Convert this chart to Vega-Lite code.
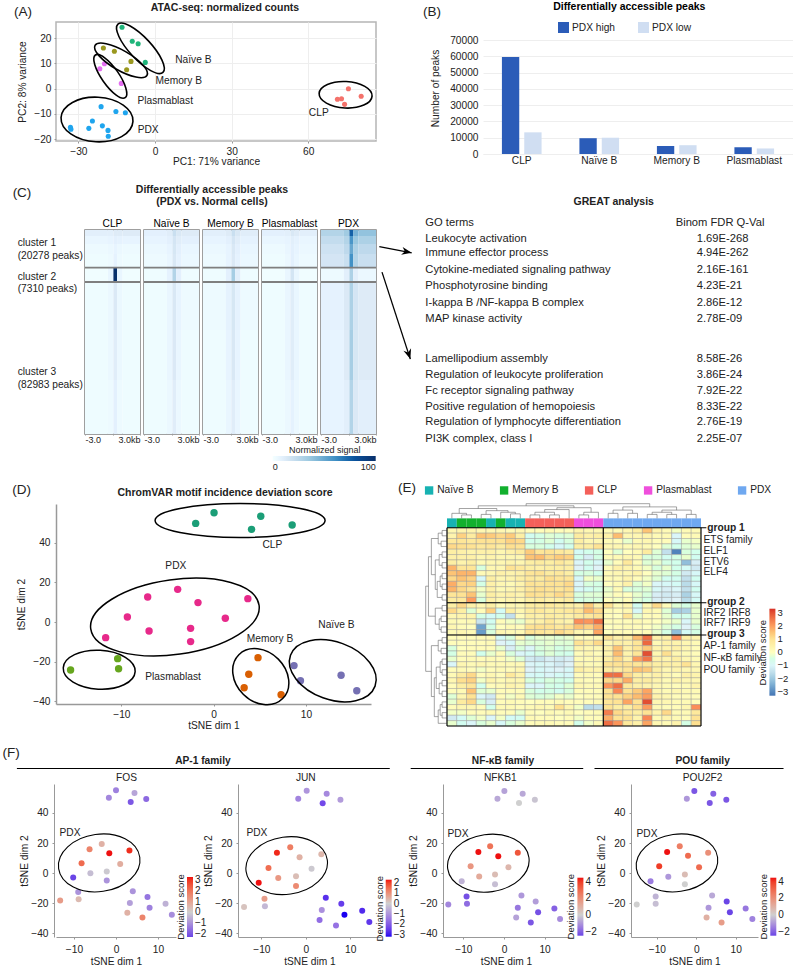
{"$schema":"https://vega.github.io/schema/vega-lite/v6.json","padding":0,"config":{"font":"Liberation Sans","view":{"stroke":null},"axis":{"grid":false,"labelFontSize":10.2,"titleFontSize":10.2,"titleFontWeight":"normal","labelColor":"#222","titleColor":"#222","domainColor":"#999","tickColor":"#999","tickSize":2,"labelPadding":3},"text":{"fontSize":10.2,"color":"#222"}},"resolve":{"scale":{"color":"independent","fill":"independent"},"legend":{"color":"independent","fill":"independent"}},"spacing":0,
"datasets":{"c":[
{"p":"CLP","x":-3,"x2":-0.5,"y":0,"y2":6,"v":10},{"p":"CLP","x":-0.5,"x2":0.1,"y":0,"y2":6,"v":10},{"p":"CLP","x":0.1,"x2":0.5,"y":0,"y2":6,"v":12},{"p":"CLP","x":0.5,"x2":1.1,"y":0,"y2":6,"v":12},{"p":"CLP","x":1.1,"x2":3,"y":0,"y2":6,"v":12},
{"p":"CLP","x":-3,"x2":-0.5,"y":6,"y2":14,"v":6},{"p":"CLP","x":-0.5,"x2":0.1,"y":6,"y2":14,"v":7},{"p":"CLP","x":0.1,"x2":0.5,"y":6,"y2":14,"v":9},{"p":"CLP","x":0.5,"x2":1.1,"y":6,"y2":14,"v":8},{"p":"CLP","x":1.1,"x2":3,"y":6,"y2":14,"v":7},
{"p":"CLP","x":-3,"x2":-0.5,"y":14,"y2":24,"v":4},{"p":"CLP","x":-0.5,"x2":0.1,"y":14,"y2":24,"v":5},{"p":"CLP","x":0.1,"x2":0.5,"y":14,"y2":24,"v":7},{"p":"CLP","x":0.5,"x2":1.1,"y":14,"y2":24,"v":5},{"p":"CLP","x":1.1,"x2":3,"y":14,"y2":24,"v":4},
{"p":"CLP","x":-3,"x2":-0.5,"y":24,"y2":37.7,"v":3},{"p":"CLP","x":-0.5,"x2":0.1,"y":24,"y2":37.7,"v":4},{"p":"CLP","x":0.1,"x2":0.5,"y":24,"y2":37.7,"v":8},{"p":"CLP","x":0.5,"x2":1.1,"y":24,"y2":37.7,"v":4},{"p":"CLP","x":1.1,"x2":3,"y":24,"y2":37.7,"v":3},
{"p":"CLP","x":-3,"x2":-0.5,"y":37.7,"y2":52,"v":2},{"p":"CLP","x":-0.5,"x2":0.1,"y":37.7,"y2":52,"v":6},{"p":"CLP","x":0.1,"x2":0.5,"y":37.7,"y2":52,"v":100},{"p":"CLP","x":0.5,"x2":1.1,"y":37.7,"y2":52,"v":6},{"p":"CLP","x":1.1,"x2":3,"y":37.7,"y2":52,"v":2},
{"p":"CLP","x":-3,"x2":-0.5,"y":52,"y2":100,"v":3},{"p":"CLP","x":-0.5,"x2":0.1,"y":52,"y2":100,"v":5},{"p":"CLP","x":0.1,"x2":0.5,"y":52,"y2":100,"v":13},{"p":"CLP","x":0.5,"x2":1.1,"y":52,"y2":100,"v":5},{"p":"CLP","x":1.1,"x2":3,"y":52,"y2":100,"v":3},
{"p":"CLP","x":-3,"x2":-0.5,"y":100,"y2":150,"v":3},{"p":"CLP","x":-0.5,"x2":0.1,"y":100,"y2":150,"v":5},{"p":"CLP","x":0.1,"x2":0.5,"y":100,"y2":150,"v":11},{"p":"CLP","x":0.5,"x2":1.1,"y":100,"y2":150,"v":5},{"p":"CLP","x":1.1,"x2":3,"y":100,"y2":150,"v":3},
{"p":"CLP","x":-3,"x2":-0.5,"y":150,"y2":204,"v":3},{"p":"CLP","x":-0.5,"x2":0.1,"y":150,"y2":204,"v":4},{"p":"CLP","x":0.1,"x2":0.5,"y":150,"y2":204,"v":9},{"p":"CLP","x":0.5,"x2":1.1,"y":150,"y2":204,"v":4},{"p":"CLP","x":1.1,"x2":3,"y":150,"y2":204,"v":3},
{"p":"NB","x":-3,"x2":-0.5,"y":0,"y2":6,"v":9},{"p":"NB","x":-0.5,"x2":0.1,"y":0,"y2":6,"v":11},{"p":"NB","x":0.1,"x2":0.5,"y":0,"y2":6,"v":20},{"p":"NB","x":0.5,"x2":1.1,"y":0,"y2":6,"v":14},{"p":"NB","x":1.1,"x2":3,"y":0,"y2":6,"v":12},
{"p":"NB","x":-3,"x2":-0.5,"y":6,"y2":14,"v":7},{"p":"NB","x":-0.5,"x2":0.1,"y":6,"y2":14,"v":9},{"p":"NB","x":0.1,"x2":0.5,"y":6,"y2":14,"v":16},{"p":"NB","x":0.5,"x2":1.1,"y":6,"y2":14,"v":11},{"p":"NB","x":1.1,"x2":3,"y":6,"y2":14,"v":9},
{"p":"NB","x":-3,"x2":-0.5,"y":14,"y2":24,"v":5},{"p":"NB","x":-0.5,"x2":0.1,"y":14,"y2":24,"v":7},{"p":"NB","x":0.1,"x2":0.5,"y":14,"y2":24,"v":15},{"p":"NB","x":0.5,"x2":1.1,"y":14,"y2":24,"v":9},{"p":"NB","x":1.1,"x2":3,"y":14,"y2":24,"v":6},
{"p":"NB","x":-3,"x2":-0.5,"y":24,"y2":37.7,"v":4},{"p":"NB","x":-0.5,"x2":0.1,"y":24,"y2":37.7,"v":6},{"p":"NB","x":0.1,"x2":0.5,"y":24,"y2":37.7,"v":14},{"p":"NB","x":0.5,"x2":1.1,"y":24,"y2":37.7,"v":8},{"p":"NB","x":1.1,"x2":3,"y":24,"y2":37.7,"v":5},
{"p":"NB","x":-3,"x2":-0.5,"y":37.7,"y2":52,"v":3},{"p":"NB","x":-0.5,"x2":0.1,"y":37.7,"y2":52,"v":8},{"p":"NB","x":0.1,"x2":0.5,"y":37.7,"y2":52,"v":28},{"p":"NB","x":0.5,"x2":1.1,"y":37.7,"y2":52,"v":9},{"p":"NB","x":1.1,"x2":3,"y":37.7,"y2":52,"v":3},
{"p":"NB","x":-3,"x2":-0.5,"y":52,"y2":100,"v":3},{"p":"NB","x":-0.5,"x2":0.1,"y":52,"y2":100,"v":6},{"p":"NB","x":0.1,"x2":0.5,"y":52,"y2":100,"v":14},{"p":"NB","x":0.5,"x2":1.1,"y":52,"y2":100,"v":7},{"p":"NB","x":1.1,"x2":3,"y":52,"y2":100,"v":4},
{"p":"NB","x":-3,"x2":-0.5,"y":100,"y2":150,"v":3},{"p":"NB","x":-0.5,"x2":0.1,"y":100,"y2":150,"v":6},{"p":"NB","x":0.1,"x2":0.5,"y":100,"y2":150,"v":13},{"p":"NB","x":0.5,"x2":1.1,"y":100,"y2":150,"v":6},{"p":"NB","x":1.1,"x2":3,"y":100,"y2":150,"v":3},
{"p":"NB","x":-3,"x2":-0.5,"y":150,"y2":204,"v":3},{"p":"NB","x":-0.5,"x2":0.1,"y":150,"y2":204,"v":5},{"p":"NB","x":0.1,"x2":0.5,"y":150,"y2":204,"v":11},{"p":"NB","x":0.5,"x2":1.1,"y":150,"y2":204,"v":5},{"p":"NB","x":1.1,"x2":3,"y":150,"y2":204,"v":3},
{"p":"MB","x":-3,"x2":-0.5,"y":0,"y2":6,"v":10},{"p":"MB","x":-0.5,"x2":0.1,"y":0,"y2":6,"v":12},{"p":"MB","x":0.1,"x2":0.5,"y":0,"y2":6,"v":20},{"p":"MB","x":0.5,"x2":1.1,"y":0,"y2":6,"v":14},{"p":"MB","x":1.1,"x2":3,"y":0,"y2":6,"v":11},
{"p":"MB","x":-3,"x2":-0.5,"y":6,"y2":14,"v":7},{"p":"MB","x":-0.5,"x2":0.1,"y":6,"y2":14,"v":9},{"p":"MB","x":0.1,"x2":0.5,"y":6,"y2":14,"v":16},{"p":"MB","x":0.5,"x2":1.1,"y":6,"y2":14,"v":11},{"p":"MB","x":1.1,"x2":3,"y":6,"y2":14,"v":8},
{"p":"MB","x":-3,"x2":-0.5,"y":14,"y2":24,"v":5},{"p":"MB","x":-0.5,"x2":0.1,"y":14,"y2":24,"v":7},{"p":"MB","x":0.1,"x2":0.5,"y":14,"y2":24,"v":14},{"p":"MB","x":0.5,"x2":1.1,"y":14,"y2":24,"v":9},{"p":"MB","x":1.1,"x2":3,"y":14,"y2":24,"v":6},
{"p":"MB","x":-3,"x2":-0.5,"y":24,"y2":37.7,"v":4},{"p":"MB","x":-0.5,"x2":0.1,"y":24,"y2":37.7,"v":7},{"p":"MB","x":0.1,"x2":0.5,"y":24,"y2":37.7,"v":13},{"p":"MB","x":0.5,"x2":1.1,"y":24,"y2":37.7,"v":8},{"p":"MB","x":1.1,"x2":3,"y":24,"y2":37.7,"v":5},
{"p":"MB","x":-3,"x2":-0.5,"y":37.7,"y2":52,"v":3},{"p":"MB","x":-0.5,"x2":0.1,"y":37.7,"y2":52,"v":9},{"p":"MB","x":0.1,"x2":0.5,"y":37.7,"y2":52,"v":32},{"p":"MB","x":0.5,"x2":1.1,"y":37.7,"y2":52,"v":10},{"p":"MB","x":1.1,"x2":3,"y":37.7,"y2":52,"v":3},
{"p":"MB","x":-3,"x2":-0.5,"y":52,"y2":100,"v":4},{"p":"MB","x":-0.5,"x2":0.1,"y":52,"y2":100,"v":8},{"p":"MB","x":0.1,"x2":0.5,"y":52,"y2":100,"v":15},{"p":"MB","x":0.5,"x2":1.1,"y":52,"y2":100,"v":8},{"p":"MB","x":1.1,"x2":3,"y":52,"y2":100,"v":4},
{"p":"MB","x":-3,"x2":-0.5,"y":100,"y2":150,"v":3},{"p":"MB","x":-0.5,"x2":0.1,"y":100,"y2":150,"v":7},{"p":"MB","x":0.1,"x2":0.5,"y":100,"y2":150,"v":14},{"p":"MB","x":0.5,"x2":1.1,"y":100,"y2":150,"v":7},{"p":"MB","x":1.1,"x2":3,"y":100,"y2":150,"v":3},
{"p":"MB","x":-3,"x2":-0.5,"y":150,"y2":204,"v":3},{"p":"MB","x":-0.5,"x2":0.1,"y":150,"y2":204,"v":6},{"p":"MB","x":0.1,"x2":0.5,"y":150,"y2":204,"v":11},{"p":"MB","x":0.5,"x2":1.1,"y":150,"y2":204,"v":6},{"p":"MB","x":1.1,"x2":3,"y":150,"y2":204,"v":3},
{"p":"PB","x":-3,"x2":-0.5,"y":0,"y2":6,"v":9},{"p":"PB","x":-0.5,"x2":0.1,"y":0,"y2":6,"v":10},{"p":"PB","x":0.1,"x2":0.5,"y":0,"y2":6,"v":14},{"p":"PB","x":0.5,"x2":1.1,"y":0,"y2":6,"v":12},{"p":"PB","x":1.1,"x2":3,"y":0,"y2":6,"v":10},
{"p":"PB","x":-3,"x2":-0.5,"y":6,"y2":14,"v":6},{"p":"PB","x":-0.5,"x2":0.1,"y":6,"y2":14,"v":7},{"p":"PB","x":0.1,"x2":0.5,"y":6,"y2":14,"v":10},{"p":"PB","x":0.5,"x2":1.1,"y":6,"y2":14,"v":8},{"p":"PB","x":1.1,"x2":3,"y":6,"y2":14,"v":6},
{"p":"PB","x":-3,"x2":-0.5,"y":14,"y2":24,"v":4},{"p":"PB","x":-0.5,"x2":0.1,"y":14,"y2":24,"v":6},{"p":"PB","x":0.1,"x2":0.5,"y":14,"y2":24,"v":9},{"p":"PB","x":0.5,"x2":1.1,"y":14,"y2":24,"v":7},{"p":"PB","x":1.1,"x2":3,"y":14,"y2":24,"v":5},
{"p":"PB","x":-3,"x2":-0.5,"y":24,"y2":37.7,"v":3},{"p":"PB","x":-0.5,"x2":0.1,"y":24,"y2":37.7,"v":5},{"p":"PB","x":0.1,"x2":0.5,"y":24,"y2":37.7,"v":9},{"p":"PB","x":0.5,"x2":1.1,"y":24,"y2":37.7,"v":6},{"p":"PB","x":1.1,"x2":3,"y":24,"y2":37.7,"v":4},
{"p":"PB","x":-3,"x2":-0.5,"y":37.7,"y2":52,"v":2},{"p":"PB","x":-0.5,"x2":0.1,"y":37.7,"y2":52,"v":6},{"p":"PB","x":0.1,"x2":0.5,"y":37.7,"y2":52,"v":16},{"p":"PB","x":0.5,"x2":1.1,"y":37.7,"y2":52,"v":6},{"p":"PB","x":1.1,"x2":3,"y":37.7,"y2":52,"v":2},
{"p":"PB","x":-3,"x2":-0.5,"y":52,"y2":100,"v":3},{"p":"PB","x":-0.5,"x2":0.1,"y":52,"y2":100,"v":6},{"p":"PB","x":0.1,"x2":0.5,"y":52,"y2":100,"v":11},{"p":"PB","x":0.5,"x2":1.1,"y":52,"y2":100,"v":6},{"p":"PB","x":1.1,"x2":3,"y":52,"y2":100,"v":3},
{"p":"PB","x":-3,"x2":-0.5,"y":100,"y2":150,"v":3},{"p":"PB","x":-0.5,"x2":0.1,"y":100,"y2":150,"v":6},{"p":"PB","x":0.1,"x2":0.5,"y":100,"y2":150,"v":11},{"p":"PB","x":0.5,"x2":1.1,"y":100,"y2":150,"v":6},{"p":"PB","x":1.1,"x2":3,"y":100,"y2":150,"v":3},
{"p":"PB","x":-3,"x2":-0.5,"y":150,"y2":204,"v":3},{"p":"PB","x":-0.5,"x2":0.1,"y":150,"y2":204,"v":5},{"p":"PB","x":0.1,"x2":0.5,"y":150,"y2":204,"v":8},{"p":"PB","x":0.5,"x2":1.1,"y":150,"y2":204,"v":5},{"p":"PB","x":1.1,"x2":3,"y":150,"y2":204,"v":3},
{"p":"PDX","x":-3,"x2":-0.5,"y":0,"y2":6,"v":28},{"p":"PDX","x":-0.5,"x2":0.1,"y":0,"y2":6,"v":34},{"p":"PDX","x":0.1,"x2":0.5,"y":0,"y2":6,"v":75},{"p":"PDX","x":0.5,"x2":1.1,"y":0,"y2":6,"v":45},{"p":"PDX","x":1.1,"x2":3,"y":0,"y2":6,"v":38},
{"p":"PDX","x":-3,"x2":-0.5,"y":6,"y2":14,"v":22},{"p":"PDX","x":-0.5,"x2":0.1,"y":6,"y2":14,"v":28},{"p":"PDX","x":0.1,"x2":0.5,"y":6,"y2":14,"v":58},{"p":"PDX","x":0.5,"x2":1.1,"y":6,"y2":14,"v":36},{"p":"PDX","x":1.1,"x2":3,"y":6,"y2":14,"v":30},
{"p":"PDX","x":-3,"x2":-0.5,"y":14,"y2":24,"v":18},{"p":"PDX","x":-0.5,"x2":0.1,"y":14,"y2":24,"v":24},{"p":"PDX","x":0.1,"x2":0.5,"y":14,"y2":24,"v":50},{"p":"PDX","x":0.5,"x2":1.1,"y":14,"y2":24,"v":30},{"p":"PDX","x":1.1,"x2":3,"y":14,"y2":24,"v":24},
{"p":"PDX","x":-3,"x2":-0.5,"y":24,"y2":37.7,"v":16},{"p":"PDX","x":-0.5,"x2":0.1,"y":24,"y2":37.7,"v":20},{"p":"PDX","x":0.1,"x2":0.5,"y":24,"y2":37.7,"v":60},{"p":"PDX","x":0.5,"x2":1.1,"y":24,"y2":37.7,"v":28},{"p":"PDX","x":1.1,"x2":3,"y":24,"y2":37.7,"v":20},
{"p":"PDX","x":-3,"x2":-0.5,"y":37.7,"y2":52,"v":4},{"p":"PDX","x":-0.5,"x2":0.1,"y":37.7,"y2":52,"v":10},{"p":"PDX","x":0.1,"x2":0.5,"y":37.7,"y2":52,"v":30},{"p":"PDX","x":0.5,"x2":1.1,"y":37.7,"y2":52,"v":10},{"p":"PDX","x":1.1,"x2":3,"y":37.7,"y2":52,"v":5},
{"p":"PDX","x":-3,"x2":-0.5,"y":52,"y2":100,"v":8},{"p":"PDX","x":-0.5,"x2":0.1,"y":52,"y2":100,"v":13},{"p":"PDX","x":0.1,"x2":0.5,"y":52,"y2":100,"v":30},{"p":"PDX","x":0.5,"x2":1.1,"y":52,"y2":100,"v":16},{"p":"PDX","x":1.1,"x2":3,"y":52,"y2":100,"v":12},
{"p":"PDX","x":-3,"x2":-0.5,"y":100,"y2":150,"v":7},{"p":"PDX","x":-0.5,"x2":0.1,"y":100,"y2":150,"v":12},{"p":"PDX","x":0.1,"x2":0.5,"y":100,"y2":150,"v":32},{"p":"PDX","x":0.5,"x2":1.1,"y":100,"y2":150,"v":15},{"p":"PDX","x":1.1,"x2":3,"y":100,"y2":150,"v":12},
{"p":"PDX","x":-3,"x2":-0.5,"y":150,"y2":204,"v":7},{"p":"PDX","x":-0.5,"x2":0.1,"y":150,"y2":204,"v":10},{"p":"PDX","x":0.1,"x2":0.5,"y":150,"y2":204,"v":28},{"p":"PDX","x":0.5,"x2":1.1,"y":150,"y2":204,"v":13},{"p":"PDX","x":1.1,"x2":3,"y":150,"y2":204,"v":10}
],"e":[
{"r":1,"c":1,"v":0.3},{"r":1,"c":2,"v":0.4},{"r":1,"c":3,"v":0.4},{"r":1,"c":4,"v":0.3},{"r":1,"c":5,"v":0.3},{"r":1,"c":6,"v":0.3},{"r":1,"c":7,"v":0.2},{"r":1,"c":8,"v":0.3},{"r":1,"c":9,"v":0.1},{"r":1,"c":10,"v":0.1},{"r":1,"c":11,"v":0.2},{"r":1,"c":12,"v":0.1},{"r":1,"c":13,"v":0.1},{"r":1,"c":14,"v":0.4},{"r":1,"c":15,"v":0.3},{"r":1,"c":16,"v":0.3},{"r":1,"c":17,"v":0.2},{"r":1,"c":18,"v":0.2},{"r":1,"c":19,"v":0.3},{"r":1,"c":20,"v":0.6},{"r":1,"c":21,"v":1.5},{"r":1,"c":22,"v":0.4},{"r":1,"c":23,"v":0.2},{"r":1,"c":24,"v":-0.1},{"r":1,"c":25,"v":0.2},{"r":1,"c":26,"v":0.2},
{"r":2,"c":1,"v":0.4},{"r":2,"c":2,"v":1.3},{"r":2,"c":3,"v":0.7},{"r":2,"c":4,"v":1.5},{"r":2,"c":5,"v":1.4},{"r":2,"c":6,"v":1.2},{"r":2,"c":7,"v":1.4},{"r":2,"c":8,"v":0.6},{"r":2,"c":9,"v":-0.7},{"r":2,"c":10,"v":-0.5},{"r":2,"c":11,"v":-0.3},{"r":2,"c":12,"v":-0.4},{"r":2,"c":13,"v":-0.3},{"r":2,"c":14,"v":0.7},{"r":2,"c":15,"v":0.5},{"r":2,"c":16,"v":0.6},{"r":2,"c":17,"v":0.5},{"r":2,"c":18,"v":1.6},{"r":2,"c":19,"v":0.3},{"r":2,"c":20,"v":0.3},{"r":2,"c":21,"v":0.4},{"r":2,"c":22,"v":0.2},{"r":2,"c":23,"v":0.2},{"r":2,"c":24,"v":-1},{"r":2,"c":25,"v":0.1},{"r":2,"c":26,"v":0.2},
{"r":3,"c":1,"v":0.8},{"r":3,"c":2,"v":0.9},{"r":3,"c":3,"v":0.8},{"r":3,"c":4,"v":1},{"r":3,"c":5,"v":1},{"r":3,"c":6,"v":1},{"r":3,"c":7,"v":1.3},{"r":3,"c":8,"v":1.2},{"r":3,"c":9,"v":-0.6},{"r":3,"c":10,"v":-0.5},{"r":3,"c":11,"v":-0.3},{"r":3,"c":12,"v":-0.7},{"r":3,"c":13,"v":-0.4},{"r":3,"c":14,"v":0.6},{"r":3,"c":15,"v":0.3},{"r":3,"c":16,"v":0.3},{"r":3,"c":17,"v":0.2},{"r":3,"c":18,"v":0.1},{"r":3,"c":19,"v":-0.2},{"r":3,"c":20,"v":0.2},{"r":3,"c":21,"v":0.3},{"r":3,"c":22,"v":0.1},{"r":3,"c":23,"v":0.1},{"r":3,"c":24,"v":-0.9},{"r":3,"c":25,"v":-0.2},{"r":3,"c":26,"v":-0.1},
{"r":4,"c":1,"v":1.2},{"r":4,"c":2,"v":1.1},{"r":4,"c":3,"v":1},{"r":4,"c":4,"v":0.8},{"r":4,"c":5,"v":0.9},{"r":4,"c":6,"v":0.7},{"r":4,"c":7,"v":1.1},{"r":4,"c":8,"v":1},{"r":4,"c":9,"v":-0.4},{"r":4,"c":10,"v":-0.4},{"r":4,"c":11,"v":-0.6},{"r":4,"c":12,"v":-0.9},{"r":4,"c":13,"v":-0.6},{"r":4,"c":14,"v":0.6},{"r":4,"c":15,"v":0.6},{"r":4,"c":16,"v":1},{"r":4,"c":17,"v":0.3},{"r":4,"c":18,"v":0.3},{"r":4,"c":19,"v":0.2},{"r":4,"c":20,"v":0.3},{"r":4,"c":21,"v":0.2},{"r":4,"c":22,"v":0},{"r":4,"c":23,"v":-0.3},{"r":4,"c":24,"v":-0.6},{"r":4,"c":25,"v":-0.3},{"r":4,"c":26,"v":-0.2},
{"r":5,"c":1,"v":0.6},{"r":5,"c":2,"v":0.5},{"r":5,"c":3,"v":0.4},{"r":5,"c":4,"v":0.5},{"r":5,"c":5,"v":0.5},{"r":5,"c":6,"v":0.3},{"r":5,"c":7,"v":0.5},{"r":5,"c":8,"v":0.7},{"r":5,"c":9,"v":1.4},{"r":5,"c":10,"v":0.9},{"r":5,"c":11,"v":1},{"r":5,"c":12,"v":0.8},{"r":5,"c":13,"v":0.7},{"r":5,"c":14,"v":-0.8},{"r":5,"c":15,"v":-0.6},{"r":5,"c":16,"v":-0.5},{"r":5,"c":17,"v":0},{"r":5,"c":18,"v":-0.3},{"r":5,"c":19,"v":0},{"r":5,"c":20,"v":0.2},{"r":5,"c":21,"v":0.7},{"r":5,"c":22,"v":-0.3},{"r":5,"c":23,"v":-1.5},{"r":5,"c":24,"v":-3.1},{"r":5,"c":25,"v":-0.4},{"r":5,"c":26,"v":-0.6},
{"r":6,"c":1,"v":0.5},{"r":6,"c":2,"v":0.5},{"r":6,"c":3,"v":0.5},{"r":6,"c":4,"v":0.3},{"r":6,"c":5,"v":0.4},{"r":6,"c":6,"v":0.3},{"r":6,"c":7,"v":0.3},{"r":6,"c":8,"v":0.3},{"r":6,"c":9,"v":1.5},{"r":6,"c":10,"v":1.6},{"r":6,"c":11,"v":1.2},{"r":6,"c":12,"v":1.4},{"r":6,"c":13,"v":1.3},{"r":6,"c":14,"v":-0.6},{"r":6,"c":15,"v":-1.2},{"r":6,"c":16,"v":-0.5},{"r":6,"c":17,"v":0.1},{"r":6,"c":18,"v":0.2},{"r":6,"c":19,"v":0.3},{"r":6,"c":20,"v":0.2},{"r":6,"c":21,"v":-0.4},{"r":6,"c":22,"v":-0.4},{"r":6,"c":23,"v":-0.7},{"r":6,"c":24,"v":-0.5},{"r":6,"c":25,"v":-0.2},{"r":6,"c":26,"v":-0.7},
{"r":7,"c":1,"v":0.6},{"r":7,"c":2,"v":0.4},{"r":7,"c":3,"v":0.6},{"r":7,"c":4,"v":0.2},{"r":7,"c":5,"v":0.3},{"r":7,"c":6,"v":0.3},{"r":7,"c":7,"v":0.4},{"r":7,"c":8,"v":0.3},{"r":7,"c":9,"v":0.6},{"r":7,"c":10,"v":0.7},{"r":7,"c":11,"v":0.6},{"r":7,"c":12,"v":0.8},{"r":7,"c":13,"v":0.6},{"r":7,"c":14,"v":-1},{"r":7,"c":15,"v":-0.6},{"r":7,"c":16,"v":-0.9},{"r":7,"c":17,"v":-0.2},{"r":7,"c":18,"v":0.1},{"r":7,"c":19,"v":0.8},{"r":7,"c":20,"v":0.1},{"r":7,"c":21,"v":-0.3},{"r":7,"c":22,"v":-0.2},{"r":7,"c":23,"v":-0.5},{"r":7,"c":24,"v":-0.6},{"r":7,"c":25,"v":-2.2},{"r":7,"c":26,"v":-1.2},
{"r":8,"c":1,"v":1.7},{"r":8,"c":2,"v":0.9},{"r":8,"c":3,"v":0.9},{"r":8,"c":4,"v":-0.4},{"r":8,"c":5,"v":0.3},{"r":8,"c":6,"v":0.3},{"r":8,"c":7,"v":1},{"r":8,"c":8,"v":0.8},{"r":8,"c":9,"v":0.6},{"r":8,"c":10,"v":0.5},{"r":8,"c":11,"v":0.6},{"r":8,"c":12,"v":0.6},{"r":8,"c":13,"v":0.6},{"r":8,"c":14,"v":-1.1},{"r":8,"c":15,"v":-0.7},{"r":8,"c":16,"v":-1.1},{"r":8,"c":17,"v":0.1},{"r":8,"c":18,"v":0.5},{"r":8,"c":19,"v":0.4},{"r":8,"c":20,"v":0.2},{"r":8,"c":21,"v":-0.1},{"r":8,"c":22,"v":-0.4},{"r":8,"c":23,"v":-0.2},{"r":8,"c":24,"v":-0.6},{"r":8,"c":25,"v":-0.8},{"r":8,"c":26,"v":-1.3},
{"r":9,"c":1,"v":1.5},{"r":9,"c":2,"v":1.7},{"r":9,"c":3,"v":1.7},{"r":9,"c":4,"v":0.2},{"r":9,"c":5,"v":0.3},{"r":9,"c":6,"v":0.5},{"r":9,"c":7,"v":0.4},{"r":9,"c":8,"v":0.5},{"r":9,"c":9,"v":0.9},{"r":9,"c":10,"v":1},{"r":9,"c":11,"v":0.7},{"r":9,"c":12,"v":0.8},{"r":9,"c":13,"v":0.6},{"r":9,"c":14,"v":-0.5},{"r":9,"c":15,"v":-0.4},{"r":9,"c":16,"v":-0.6},{"r":9,"c":17,"v":0.2},{"r":9,"c":18,"v":0.3},{"r":9,"c":19,"v":0.3},{"r":9,"c":20,"v":0.4},{"r":9,"c":21,"v":0},{"r":9,"c":22,"v":-0.2},{"r":9,"c":23,"v":-0.3},{"r":9,"c":24,"v":-0.5},{"r":9,"c":25,"v":-1.3},{"r":9,"c":26,"v":-0.9},
{"r":10,"c":1,"v":1.2},{"r":10,"c":2,"v":1.5},{"r":10,"c":3,"v":1.3},{"r":10,"c":4,"v":-0.9},{"r":10,"c":5,"v":0.6},{"r":10,"c":6,"v":0.3},{"r":10,"c":7,"v":0.4},{"r":10,"c":8,"v":0.6},{"r":10,"c":9,"v":0.8},{"r":10,"c":10,"v":0.7},{"r":10,"c":11,"v":1.1},{"r":10,"c":12,"v":0.9},{"r":10,"c":13,"v":0.9},{"r":10,"c":14,"v":-0.9},{"r":10,"c":15,"v":-0.1},{"r":10,"c":16,"v":-0.2},{"r":10,"c":17,"v":0.2},{"r":10,"c":18,"v":0.2},{"r":10,"c":19,"v":0.4},{"r":10,"c":20,"v":0.1},{"r":10,"c":21,"v":-0.1},{"r":10,"c":22,"v":-0.3},{"r":10,"c":23,"v":-0.7},{"r":10,"c":24,"v":-0.7},{"r":10,"c":25,"v":-1.5},{"r":10,"c":26,"v":-0.7},
{"r":11,"c":1,"v":1.8},{"r":11,"c":2,"v":1.2},{"r":11,"c":3,"v":1.3},{"r":11,"c":4,"v":-0.5},{"r":11,"c":5,"v":0.5},{"r":11,"c":6,"v":0.3},{"r":11,"c":7,"v":0.2},{"r":11,"c":8,"v":0.4},{"r":11,"c":9,"v":1},{"r":11,"c":10,"v":0.9},{"r":11,"c":11,"v":1},{"r":11,"c":12,"v":1},{"r":11,"c":13,"v":1.2},{"r":11,"c":14,"v":-1},{"r":11,"c":15,"v":-0.4},{"r":11,"c":16,"v":-0.5},{"r":11,"c":17,"v":0},{"r":11,"c":18,"v":0.2},{"r":11,"c":19,"v":0.5},{"r":11,"c":20,"v":-0.3},{"r":11,"c":21,"v":-0.1},{"r":11,"c":22,"v":-1},{"r":11,"c":23,"v":-0.9},{"r":11,"c":24,"v":-0.8},{"r":11,"c":25,"v":-1.6},{"r":11,"c":26,"v":-0.9},
{"r":12,"c":1,"v":1.7},{"r":12,"c":2,"v":1.2},{"r":12,"c":3,"v":0.9},{"r":12,"c":4,"v":-0.1},{"r":12,"c":5,"v":0.5},{"r":12,"c":6,"v":0.2},{"r":12,"c":7,"v":0.3},{"r":12,"c":8,"v":0.5},{"r":12,"c":9,"v":0.9},{"r":12,"c":10,"v":1.1},{"r":12,"c":11,"v":1},{"r":12,"c":12,"v":0.9},{"r":12,"c":13,"v":1.1},{"r":12,"c":14,"v":-0.9},{"r":12,"c":15,"v":-0.7},{"r":12,"c":16,"v":-0.5},{"r":12,"c":17,"v":-0.2},{"r":12,"c":18,"v":0.2},{"r":12,"c":19,"v":-0.4},{"r":12,"c":20,"v":-0.4},{"r":12,"c":21,"v":-0.3},{"r":12,"c":22,"v":-0.9},{"r":12,"c":23,"v":-1.2},{"r":12,"c":24,"v":-1},{"r":12,"c":25,"v":-1.5},{"r":12,"c":26,"v":-0.7},
{"r":13,"c":1,"v":0.9},{"r":13,"c":2,"v":1},{"r":13,"c":3,"v":1.5},{"r":13,"c":4,"v":-0.2},{"r":13,"c":5,"v":0.6},{"r":13,"c":6,"v":0.4},{"r":13,"c":7,"v":0.5},{"r":13,"c":8,"v":0.4},{"r":13,"c":9,"v":1.1},{"r":13,"c":10,"v":1},{"r":13,"c":11,"v":0.9},{"r":13,"c":12,"v":1.2},{"r":13,"c":13,"v":0.9},{"r":13,"c":14,"v":-0.4},{"r":13,"c":15,"v":-0.3},{"r":13,"c":16,"v":-0.3},{"r":13,"c":17,"v":-0.1},{"r":13,"c":18,"v":0.1},{"r":13,"c":19,"v":0},{"r":13,"c":20,"v":-0.2},{"r":13,"c":21,"v":-0.4},{"r":13,"c":22,"v":-1.2},{"r":13,"c":23,"v":-1.3},{"r":13,"c":24,"v":-1.2},{"r":13,"c":25,"v":-1.8},{"r":13,"c":26,"v":-0.9},
{"r":14,"c":1,"v":0.7},{"r":14,"c":2,"v":0.8},{"r":14,"c":3,"v":2},{"r":14,"c":4,"v":-0.4},{"r":14,"c":5,"v":0.5},{"r":14,"c":6,"v":0.3},{"r":14,"c":7,"v":0.4},{"r":14,"c":8,"v":0.3},{"r":14,"c":9,"v":0.6},{"r":14,"c":10,"v":0.7},{"r":14,"c":11,"v":0.5},{"r":14,"c":12,"v":0.6},{"r":14,"c":13,"v":0.7},{"r":14,"c":14,"v":-0.5},{"r":14,"c":15,"v":-0.4},{"r":14,"c":16,"v":-0.4},{"r":14,"c":17,"v":0},{"r":14,"c":18,"v":-0.1},{"r":14,"c":19,"v":0.1},{"r":14,"c":20,"v":-0.3},{"r":14,"c":21,"v":-0.5},{"r":14,"c":22,"v":-1.2},{"r":14,"c":23,"v":-1.2},{"r":14,"c":24,"v":-1.1},{"r":14,"c":25,"v":-1.6},{"r":14,"c":26,"v":-0.8},
{"r":15,"c":1,"v":0.6},{"r":15,"c":2,"v":1.2},{"r":15,"c":3,"v":0.5},{"r":15,"c":4,"v":0.3},{"r":15,"c":5,"v":0.6},{"r":15,"c":6,"v":0.1},{"r":15,"c":7,"v":0.3},{"r":15,"c":8,"v":0.3},{"r":15,"c":9,"v":0.7},{"r":15,"c":10,"v":0.7},{"r":15,"c":11,"v":0.8},{"r":15,"c":12,"v":0.7},{"r":15,"c":13,"v":0.6},{"r":15,"c":14,"v":0.5},{"r":15,"c":15,"v":1.4},{"r":15,"c":16,"v":0.5},{"r":15,"c":17,"v":1},{"r":15,"c":18,"v":0.2},{"r":15,"c":19,"v":0.4},{"r":15,"c":20,"v":-0.7},{"r":15,"c":21,"v":0.3},{"r":15,"c":22,"v":1.2},{"r":15,"c":23,"v":0.1},{"r":15,"c":24,"v":-0.3},{"r":15,"c":25,"v":-0.5},{"r":15,"c":26,"v":-0.2},
{"r":16,"c":1,"v":1.2},{"r":16,"c":2,"v":0.6},{"r":16,"c":3,"v":-0.3},{"r":16,"c":4,"v":0.1},{"r":16,"c":5,"v":1.3},{"r":16,"c":6,"v":-0.8},{"r":16,"c":7,"v":0.6},{"r":16,"c":8,"v":0.3},{"r":16,"c":9,"v":0.7},{"r":16,"c":10,"v":0.8},{"r":16,"c":11,"v":0.6},{"r":16,"c":12,"v":0.7},{"r":16,"c":13,"v":0.8},{"r":16,"c":14,"v":0.9},{"r":16,"c":15,"v":1.6},{"r":16,"c":16,"v":1.2},{"r":16,"c":17,"v":0.2},{"r":16,"c":18,"v":0.1},{"r":16,"c":19,"v":0.3},{"r":16,"c":20,"v":-0.9},{"r":16,"c":21,"v":0.3},{"r":16,"c":22,"v":0.2},{"r":16,"c":23,"v":-0.3},{"r":16,"c":24,"v":-1.9},{"r":16,"c":25,"v":-1.8},{"r":16,"c":26,"v":-0.2},
{"r":17,"c":1,"v":0.3},{"r":17,"c":2,"v":0.4},{"r":17,"c":3,"v":0.4},{"r":17,"c":4,"v":-0.5},{"r":17,"c":5,"v":-0.8},{"r":17,"c":6,"v":-0.6},{"r":17,"c":7,"v":-1.5},{"r":17,"c":8,"v":0.1},{"r":17,"c":9,"v":0.6},{"r":17,"c":10,"v":0.5},{"r":17,"c":11,"v":0.7},{"r":17,"c":12,"v":0.6},{"r":17,"c":13,"v":0.5},{"r":17,"c":14,"v":0.7},{"r":17,"c":15,"v":0.8},{"r":17,"c":16,"v":1},{"r":17,"c":17,"v":0.1},{"r":17,"c":18,"v":0},{"r":17,"c":19,"v":1},{"r":17,"c":20,"v":-0.2},{"r":17,"c":21,"v":0.1},{"r":17,"c":22,"v":0.1},{"r":17,"c":23,"v":-0.2},{"r":17,"c":24,"v":-0.6},{"r":17,"c":25,"v":-0.6},{"r":17,"c":26,"v":-0.2},
{"r":18,"c":1,"v":0.2},{"r":18,"c":2,"v":0.1},{"r":18,"c":3,"v":0.2},{"r":18,"c":4,"v":-1.4},{"r":18,"c":5,"v":-0.7},{"r":18,"c":6,"v":0.1},{"r":18,"c":7,"v":-0.1},{"r":18,"c":8,"v":-0.2},{"r":18,"c":9,"v":0.4},{"r":18,"c":10,"v":0.5},{"r":18,"c":11,"v":0.8},{"r":18,"c":12,"v":0.5},{"r":18,"c":13,"v":0.4},{"r":18,"c":14,"v":2.2},{"r":18,"c":15,"v":2.1},{"r":18,"c":16,"v":2.6},{"r":18,"c":17,"v":0.1},{"r":18,"c":18,"v":0.1},{"r":18,"c":19,"v":0.1},{"r":18,"c":20,"v":0.2},{"r":18,"c":21,"v":0.1},{"r":18,"c":22,"v":0},{"r":18,"c":23,"v":-0.1},{"r":18,"c":24,"v":-0.2},{"r":18,"c":25,"v":-1},{"r":18,"c":26,"v":-0.2},
{"r":19,"c":1,"v":0.3},{"r":19,"c":2,"v":0.1},{"r":19,"c":3,"v":0},{"r":19,"c":4,"v":-2.6},{"r":19,"c":5,"v":-0.5},{"r":19,"c":6,"v":0},{"r":19,"c":7,"v":0.2},{"r":19,"c":8,"v":0.1},{"r":19,"c":9,"v":1},{"r":19,"c":10,"v":1.1},{"r":19,"c":11,"v":1},{"r":19,"c":12,"v":0.8},{"r":19,"c":13,"v":1},{"r":19,"c":14,"v":1.5},{"r":19,"c":15,"v":1.3},{"r":19,"c":16,"v":1.8},{"r":19,"c":17,"v":0},{"r":19,"c":18,"v":0.1},{"r":19,"c":19,"v":0.2},{"r":19,"c":20,"v":0.1},{"r":19,"c":21,"v":0},{"r":19,"c":22,"v":-0.1},{"r":19,"c":23,"v":-0.3},{"r":19,"c":24,"v":-0.5},{"r":19,"c":25,"v":-1.1},{"r":19,"c":26,"v":-0.4},
{"r":20,"c":1,"v":0.2},{"r":20,"c":2,"v":0.3},{"r":20,"c":3,"v":0.2},{"r":20,"c":4,"v":-2.7},{"r":20,"c":5,"v":-0.4},{"r":20,"c":6,"v":0.3},{"r":20,"c":7,"v":0.2},{"r":20,"c":8,"v":0.2},{"r":20,"c":9,"v":1},{"r":20,"c":10,"v":0.9},{"r":20,"c":11,"v":0.8},{"r":20,"c":12,"v":1.2},{"r":20,"c":13,"v":0.9},{"r":20,"c":14,"v":0.3},{"r":20,"c":15,"v":0.3},{"r":20,"c":16,"v":1.9},{"r":20,"c":17,"v":0},{"r":20,"c":18,"v":0.2},{"r":20,"c":19,"v":0.1},{"r":20,"c":20,"v":0.1},{"r":20,"c":21,"v":0.1},{"r":20,"c":22,"v":-0.2},{"r":20,"c":23,"v":-0.5},{"r":20,"c":24,"v":-2.2},{"r":20,"c":25,"v":-0.8},{"r":20,"c":26,"v":-0.5},
{"r":21,"c":1,"v":0.1},{"r":21,"c":2,"v":0.1},{"r":21,"c":3,"v":0.1},{"r":21,"c":4,"v":0.2},{"r":21,"c":5,"v":0.2},{"r":21,"c":6,"v":-0.8},{"r":21,"c":7,"v":-0.4},{"r":21,"c":8,"v":0.1},{"r":21,"c":9,"v":-0.4},{"r":21,"c":10,"v":-0.2},{"r":21,"c":11,"v":-0.2},{"r":21,"c":12,"v":-0.3},{"r":21,"c":13,"v":-0.2},{"r":21,"c":14,"v":0.1},{"r":21,"c":15,"v":0.1},{"r":21,"c":16,"v":0.2},{"r":21,"c":17,"v":1},{"r":21,"c":18,"v":0.5},{"r":21,"c":19,"v":0.6},{"r":21,"c":20,"v":1.6},{"r":21,"c":21,"v":2.6},{"r":21,"c":22,"v":0.5},{"r":21,"c":23,"v":0.6},{"r":21,"c":24,"v":2.2},{"r":21,"c":25,"v":0.6},{"r":21,"c":26,"v":0.4},
{"r":22,"c":1,"v":0.1},{"r":22,"c":2,"v":0.1},{"r":22,"c":3,"v":0.1},{"r":22,"c":4,"v":0.1},{"r":22,"c":5,"v":0.2},{"r":22,"c":6,"v":-1.1},{"r":22,"c":7,"v":-0.9},{"r":22,"c":8,"v":-0.2},{"r":22,"c":9,"v":-0.3},{"r":22,"c":10,"v":-0.3},{"r":22,"c":11,"v":-0.2},{"r":22,"c":12,"v":-0.3},{"r":22,"c":13,"v":-0.3},{"r":22,"c":14,"v":1},{"r":22,"c":15,"v":0.7},{"r":22,"c":16,"v":1.2},{"r":22,"c":17,"v":0.3},{"r":22,"c":18,"v":0.6},{"r":22,"c":19,"v":0.5},{"r":22,"c":20,"v":0.9},{"r":22,"c":21,"v":2.7},{"r":22,"c":22,"v":0.2},{"r":22,"c":23,"v":0.5},{"r":22,"c":24,"v":0.4},{"r":22,"c":25,"v":0.3},{"r":22,"c":26,"v":0.2},
{"r":23,"c":1,"v":-0.4},{"r":23,"c":2,"v":0},{"r":23,"c":3,"v":0.1},{"r":23,"c":4,"v":0.1},{"r":23,"c":5,"v":0.1},{"r":23,"c":6,"v":-0.2},{"r":23,"c":7,"v":-1.2},{"r":23,"c":8,"v":-0.4},{"r":23,"c":9,"v":-1},{"r":23,"c":10,"v":-0.4},{"r":23,"c":11,"v":-0.3},{"r":23,"c":12,"v":-0.5},{"r":23,"c":13,"v":-0.4},{"r":23,"c":14,"v":0.4},{"r":23,"c":15,"v":0.3},{"r":23,"c":16,"v":0.3},{"r":23,"c":17,"v":0.5},{"r":23,"c":18,"v":1.5},{"r":23,"c":19,"v":0.5},{"r":23,"c":20,"v":0.9},{"r":23,"c":21,"v":1.4},{"r":23,"c":22,"v":0.4},{"r":23,"c":23,"v":0.4},{"r":23,"c":24,"v":0.5},{"r":23,"c":25,"v":0.3},{"r":23,"c":26,"v":0.1},
{"r":24,"c":1,"v":-0.5},{"r":24,"c":2,"v":0.1},{"r":24,"c":3,"v":0.1},{"r":24,"c":4,"v":-0.6},{"r":24,"c":5,"v":-0.2},{"r":24,"c":6,"v":0.1},{"r":24,"c":7,"v":-0.4},{"r":24,"c":8,"v":-1},{"r":24,"c":9,"v":-0.8},{"r":24,"c":10,"v":-0.5},{"r":24,"c":11,"v":-0.3},{"r":24,"c":12,"v":-0.5},{"r":24,"c":13,"v":-0.6},{"r":24,"c":14,"v":0.1},{"r":24,"c":15,"v":0.3},{"r":24,"c":16,"v":0.1},{"r":24,"c":17,"v":0.4},{"r":24,"c":18,"v":1.6},{"r":24,"c":19,"v":0.4},{"r":24,"c":20,"v":0.9},{"r":24,"c":21,"v":3},{"r":24,"c":22,"v":0.3},{"r":24,"c":23,"v":1.1},{"r":24,"c":24,"v":0.3},{"r":24,"c":25,"v":0.2},{"r":24,"c":26,"v":0.1},
{"r":25,"c":1,"v":-0.2},{"r":25,"c":2,"v":0.1},{"r":25,"c":3,"v":0.2},{"r":25,"c":4,"v":0.1},{"r":25,"c":5,"v":0.2},{"r":25,"c":6,"v":0.1},{"r":25,"c":7,"v":-0.1},{"r":25,"c":8,"v":-0.3},{"r":25,"c":9,"v":-1.3},{"r":25,"c":10,"v":-1.4},{"r":25,"c":11,"v":-1.2},{"r":25,"c":12,"v":-1.3},{"r":25,"c":13,"v":-1.2},{"r":25,"c":14,"v":0.2},{"r":25,"c":15,"v":0.2},{"r":25,"c":16,"v":0.3},{"r":25,"c":17,"v":0.6},{"r":25,"c":18,"v":1.2},{"r":25,"c":19,"v":0.5},{"r":25,"c":20,"v":2},{"r":25,"c":21,"v":2.5},{"r":25,"c":22,"v":0.5},{"r":25,"c":23,"v":0.4},{"r":25,"c":24,"v":0.6},{"r":25,"c":25,"v":0.3},{"r":25,"c":26,"v":0.2},
{"r":26,"c":1,"v":-1},{"r":26,"c":2,"v":0.3},{"r":26,"c":3,"v":0.2},{"r":26,"c":4,"v":0.3},{"r":26,"c":5,"v":0.2},{"r":26,"c":6,"v":0.2},{"r":26,"c":7,"v":0.2},{"r":26,"c":8,"v":0.2},{"r":26,"c":9,"v":-1},{"r":26,"c":10,"v":-0.9},{"r":26,"c":11,"v":-1},{"r":26,"c":12,"v":-1.3},{"r":26,"c":13,"v":-1.1},{"r":26,"c":14,"v":0.3},{"r":26,"c":15,"v":0.2},{"r":26,"c":16,"v":0.2},{"r":26,"c":17,"v":1},{"r":26,"c":18,"v":1},{"r":26,"c":19,"v":1},{"r":26,"c":20,"v":0.9},{"r":26,"c":21,"v":0.9},{"r":26,"c":22,"v":0.6},{"r":26,"c":23,"v":0.6},{"r":26,"c":24,"v":0.5},{"r":26,"c":25,"v":1},{"r":26,"c":26,"v":0.3},
{"r":27,"c":1,"v":0.1},{"r":27,"c":2,"v":0.2},{"r":27,"c":3,"v":0.1},{"r":27,"c":4,"v":-0.1},{"r":27,"c":5,"v":0.1},{"r":27,"c":6,"v":0.2},{"r":27,"c":7,"v":0.1},{"r":27,"c":8,"v":0.3},{"r":27,"c":9,"v":-1.1},{"r":27,"c":10,"v":-0.9},{"r":27,"c":11,"v":-1},{"r":27,"c":12,"v":-1.1},{"r":27,"c":13,"v":-0.9},{"r":27,"c":14,"v":0.6},{"r":27,"c":15,"v":0.4},{"r":27,"c":16,"v":0.4},{"r":27,"c":17,"v":0.7},{"r":27,"c":18,"v":0.7},{"r":27,"c":19,"v":0.9},{"r":27,"c":20,"v":1.5},{"r":27,"c":21,"v":1.4},{"r":27,"c":22,"v":0.6},{"r":27,"c":23,"v":0.3},{"r":27,"c":24,"v":0.4},{"r":27,"c":25,"v":0.3},{"r":27,"c":26,"v":0.3},
{"r":28,"c":1,"v":0.2},{"r":28,"c":2,"v":0.7},{"r":28,"c":3,"v":1.2},{"r":28,"c":4,"v":0.1},{"r":28,"c":5,"v":0.3},{"r":28,"c":6,"v":0.1},{"r":28,"c":7,"v":0.8},{"r":28,"c":8,"v":0.4},{"r":28,"c":9,"v":-0.9},{"r":28,"c":10,"v":-0.8},{"r":28,"c":11,"v":-1},{"r":28,"c":12,"v":-0.8},{"r":28,"c":13,"v":-0.9},{"r":28,"c":14,"v":0.1},{"r":28,"c":15,"v":0.2},{"r":28,"c":16,"v":0.1},{"r":28,"c":17,"v":2.6},{"r":28,"c":18,"v":2.6},{"r":28,"c":19,"v":1.2},{"r":28,"c":20,"v":0.6},{"r":28,"c":21,"v":0.4},{"r":28,"c":22,"v":0.5},{"r":28,"c":23,"v":0.3},{"r":28,"c":24,"v":0.1},{"r":28,"c":25,"v":0.5},{"r":28,"c":26,"v":0.4},
{"r":29,"c":1,"v":0.3},{"r":29,"c":2,"v":1.1},{"r":29,"c":3,"v":1.3},{"r":29,"c":4,"v":-0.1},{"r":29,"c":5,"v":0.4},{"r":29,"c":6,"v":0.2},{"r":29,"c":7,"v":0.3},{"r":29,"c":8,"v":0.3},{"r":29,"c":9,"v":-0.4},{"r":29,"c":10,"v":-0.6},{"r":29,"c":11,"v":-0.4},{"r":29,"c":12,"v":-0.5},{"r":29,"c":13,"v":-0.6},{"r":29,"c":14,"v":0.2},{"r":29,"c":15,"v":0.1},{"r":29,"c":16,"v":0.1},{"r":29,"c":17,"v":1.2},{"r":29,"c":18,"v":1.2},{"r":29,"c":19,"v":1.8},{"r":29,"c":20,"v":0.6},{"r":29,"c":21,"v":0.7},{"r":29,"c":22,"v":0.4},{"r":29,"c":23,"v":0.2},{"r":29,"c":24,"v":0.4},{"r":29,"c":25,"v":0.3},{"r":29,"c":26,"v":0.3},
{"r":30,"c":1,"v":0.1},{"r":30,"c":2,"v":0.6},{"r":30,"c":3,"v":0.9},{"r":30,"c":4,"v":-0.6},{"r":30,"c":5,"v":0.1},{"r":30,"c":6,"v":0.2},{"r":30,"c":7,"v":0.4},{"r":30,"c":8,"v":0.3},{"r":30,"c":9,"v":-1},{"r":30,"c":10,"v":-1},{"r":30,"c":11,"v":-0.5},{"r":30,"c":12,"v":-0.6},{"r":30,"c":13,"v":-0.3},{"r":30,"c":14,"v":0.3},{"r":30,"c":15,"v":0.2},{"r":30,"c":16,"v":0.2},{"r":30,"c":17,"v":2.1},{"r":30,"c":18,"v":2.6},{"r":30,"c":19,"v":0.8},{"r":30,"c":20,"v":0.5},{"r":30,"c":21,"v":0.4},{"r":30,"c":22,"v":0.3},{"r":30,"c":23,"v":0.2},{"r":30,"c":24,"v":0.1},{"r":30,"c":25,"v":0.2},{"r":30,"c":26,"v":0.4},
{"r":31,"c":1,"v":0.1},{"r":31,"c":2,"v":0.2},{"r":31,"c":3,"v":1.5},{"r":31,"c":4,"v":-0.3},{"r":31,"c":5,"v":-0.2},{"r":31,"c":6,"v":0.1},{"r":31,"c":7,"v":0.1},{"r":31,"c":8,"v":0.1},{"r":31,"c":9,"v":-0.4},{"r":31,"c":10,"v":-0.6},{"r":31,"c":11,"v":-0.5},{"r":31,"c":12,"v":-0.7},{"r":31,"c":13,"v":-0.4},{"r":31,"c":14,"v":0.1},{"r":31,"c":15,"v":0.1},{"r":31,"c":16,"v":0.1},{"r":31,"c":17,"v":1},{"r":31,"c":18,"v":2.3},{"r":31,"c":19,"v":1},{"r":31,"c":20,"v":1.4},{"r":31,"c":21,"v":1.9},{"r":31,"c":22,"v":0.3},{"r":31,"c":23,"v":0.2},{"r":31,"c":24,"v":0.3},{"r":31,"c":25,"v":0.2},{"r":31,"c":26,"v":0.2},
{"r":32,"c":1,"v":-0.3},{"r":32,"c":2,"v":0.3},{"r":32,"c":3,"v":1},{"r":32,"c":4,"v":-1},{"r":32,"c":5,"v":-1.3},{"r":32,"c":6,"v":0.1},{"r":32,"c":7,"v":-0.1},{"r":32,"c":8,"v":0.2},{"r":32,"c":9,"v":-0.3},{"r":32,"c":10,"v":-0.4},{"r":32,"c":11,"v":-0.3},{"r":32,"c":12,"v":-0.1},{"r":32,"c":13,"v":-0.2},{"r":32,"c":14,"v":0},{"r":32,"c":15,"v":0.1},{"r":32,"c":16,"v":0.1},{"r":32,"c":17,"v":1},{"r":32,"c":18,"v":1},{"r":32,"c":19,"v":1.3},{"r":32,"c":20,"v":1.6},{"r":32,"c":21,"v":2},{"r":32,"c":22,"v":0.4},{"r":32,"c":23,"v":0.3},{"r":32,"c":24,"v":0.1},{"r":32,"c":25,"v":0.1},{"r":32,"c":26,"v":0.1},
{"r":33,"c":1,"v":-0.2},{"r":33,"c":2,"v":0.7},{"r":33,"c":3,"v":1.2},{"r":33,"c":4,"v":-0.4},{"r":33,"c":5,"v":-1.2},{"r":33,"c":6,"v":0.1},{"r":33,"c":7,"v":0.2},{"r":33,"c":8,"v":0.1},{"r":33,"c":9,"v":0},{"r":33,"c":10,"v":0.1},{"r":33,"c":11,"v":0.1},{"r":33,"c":12,"v":0.2},{"r":33,"c":13,"v":0.1},{"r":33,"c":14,"v":0.1},{"r":33,"c":15,"v":0.1},{"r":33,"c":16,"v":0.2},{"r":33,"c":17,"v":0.9},{"r":33,"c":18,"v":1},{"r":33,"c":19,"v":1.9},{"r":33,"c":20,"v":1},{"r":33,"c":21,"v":3},{"r":33,"c":22,"v":0.3},{"r":33,"c":23,"v":0.3},{"r":33,"c":24,"v":0.2},{"r":33,"c":25,"v":0.2},{"r":33,"c":26,"v":0.1},
{"r":34,"c":1,"v":0.1},{"r":34,"c":2,"v":0.3},{"r":34,"c":3,"v":0.3},{"r":34,"c":4,"v":0.1},{"r":34,"c":5,"v":-0.6},{"r":34,"c":6,"v":0.2},{"r":34,"c":7,"v":0.2},{"r":34,"c":8,"v":0.1},{"r":34,"c":9,"v":0.2},{"r":34,"c":10,"v":0.3},{"r":34,"c":11,"v":0.2},{"r":34,"c":12,"v":1.1},{"r":34,"c":13,"v":0.3},{"r":34,"c":14,"v":-0.1},{"r":34,"c":15,"v":-1.6},{"r":34,"c":16,"v":-1.5},{"r":34,"c":17,"v":1},{"r":34,"c":18,"v":0.6},{"r":34,"c":19,"v":0.6},{"r":34,"c":20,"v":1.1},{"r":34,"c":21,"v":2},{"r":34,"c":22,"v":0.2},{"r":34,"c":23,"v":0.1},{"r":34,"c":24,"v":0.1},{"r":34,"c":25,"v":0.3},{"r":34,"c":26,"v":2.2},
{"r":35,"c":1,"v":-0.1},{"r":35,"c":2,"v":-0.1},{"r":35,"c":3,"v":0.1},{"r":35,"c":4,"v":0.1},{"r":35,"c":5,"v":0.2},{"r":35,"c":6,"v":0.1},{"r":35,"c":7,"v":0.1},{"r":35,"c":8,"v":-0.2},{"r":35,"c":9,"v":0.1},{"r":35,"c":10,"v":0},{"r":35,"c":11,"v":0.2},{"r":35,"c":12,"v":0.1},{"r":35,"c":13,"v":0.2},{"r":35,"c":14,"v":0},{"r":35,"c":15,"v":0.1},{"r":35,"c":16,"v":0.2},{"r":35,"c":17,"v":2.4},{"r":35,"c":18,"v":1.2},{"r":35,"c":19,"v":0.8},{"r":35,"c":20,"v":0.6},{"r":35,"c":21,"v":1},{"r":35,"c":22,"v":0.4},{"r":35,"c":23,"v":1.2},{"r":35,"c":24,"v":0.2},{"r":35,"c":25,"v":0.2},{"r":35,"c":26,"v":0.8},
{"r":36,"c":1,"v":-1.3},{"r":36,"c":2,"v":-0.8},{"r":36,"c":3,"v":-0.3},{"r":36,"c":4,"v":-0.1},{"r":36,"c":5,"v":-1},{"r":36,"c":6,"v":-0.1},{"r":36,"c":7,"v":-0.8},{"r":36,"c":8,"v":-0.7},{"r":36,"c":9,"v":0.2},{"r":36,"c":10,"v":0.1},{"r":36,"c":11,"v":0.1},{"r":36,"c":12,"v":0},{"r":36,"c":13,"v":0.1},{"r":36,"c":14,"v":-0.1},{"r":36,"c":15,"v":0.1},{"r":36,"c":16,"v":0.1},{"r":36,"c":17,"v":1.8},{"r":36,"c":18,"v":1},{"r":36,"c":19,"v":1},{"r":36,"c":20,"v":0.4},{"r":36,"c":21,"v":2.3},{"r":36,"c":22,"v":0.2},{"r":36,"c":23,"v":0.4},{"r":36,"c":24,"v":0.2},{"r":36,"c":25,"v":0.1},{"r":36,"c":26,"v":1},
{"r":37,"c":1,"v":-0.2},{"r":37,"c":2,"v":-0.7},{"r":37,"c":3,"v":-1},{"r":37,"c":4,"v":-0.4},{"r":37,"c":5,"v":-0.2},{"r":37,"c":6,"v":-0.9},{"r":37,"c":7,"v":-0.4},{"r":37,"c":8,"v":-0.2},{"r":37,"c":9,"v":0.1},{"r":37,"c":10,"v":0.2},{"r":37,"c":11,"v":0.2},{"r":37,"c":12,"v":0.1},{"r":37,"c":13,"v":0.1},{"r":37,"c":14,"v":-0.6},{"r":37,"c":15,"v":-0.1},{"r":37,"c":16,"v":0.2},{"r":37,"c":17,"v":2.6},{"r":37,"c":18,"v":2.1},{"r":37,"c":19,"v":0.8},{"r":37,"c":20,"v":0.5},{"r":37,"c":21,"v":1.9},{"r":37,"c":22,"v":0.3},{"r":37,"c":23,"v":0.2},{"r":37,"c":24,"v":0.4},{"r":37,"c":25,"v":-0.5},{"r":37,"c":26,"v":1.1}
],"tree":[
{"c":2,"c2":3,"r":-1.9,"r2":-1.9},{"c":2,"c2":2,"r":-1.9,"r2":-1.26},{"c":3,"c2":3,"r":-1.9,"r2":-1.26},{"c":1,"c2":2.5,"r":-2.2,"r2":-2.2},{"c":1,"c2":1,"r":-2.2,"r2":-1.26},{"c":2.5,"c2":2.5,"r":-2.2,"r2":-1.9},{"c":4,"c2":5,"r":-2,"r2":-2},{"c":4,"c2":4,"r":-2,"r2":-1.26},{"c":5,"c2":5,"r":-2,"r2":-1.26},{"c":7,"c2":8,"r":-2.1,"r2":-2.1},{"c":7,"c2":7,"r":-2.1,"r2":-1.26},{"c":8,"c2":8,"r":-2.1,"r2":-1.26},{"c":6,"c2":7.5,"r":-2.4,"r2":-2.4},{"c":6,"c2":6,"r":-2.4,"r2":-1.26},{"c":7.5,"c2":7.5,"r":-2.4,"r2":-2.1},{"c":4.5,"c2":6.75,"r":-2.7,"r2":-2.7},{"c":4.5,"c2":4.5,"r":-2.7,"r2":-2},{"c":6.75,"c2":6.75,"r":-2.7,"r2":-2.4},{"c":1.75,"c2":5.6,"r":-3.1,"r2":-3.1},{"c":1.75,"c2":1.75,"r":-3.1,"r2":-2.2},{"c":5.6,"c2":5.6,"r":-3.1,"r2":-2.7},
{"c":9,"c2":10,"r":-1.9,"r2":-1.9},{"c":9,"c2":9,"r":-1.9,"r2":-1.26},{"c":10,"c2":10,"r":-1.9,"r2":-1.26},{"c":11,"c2":12,"r":-1.9,"r2":-1.9},{"c":11,"c2":11,"r":-1.9,"r2":-1.26},{"c":12,"c2":12,"r":-1.9,"r2":-1.26},{"c":9.5,"c2":11.5,"r":-2.4,"r2":-2.4},{"c":9.5,"c2":9.5,"r":-2.4,"r2":-1.9},{"c":11.5,"c2":11.5,"r":-2.4,"r2":-1.9},{"c":10.5,"c2":13,"r":-2.9,"r2":-2.9},{"c":10.5,"c2":10.5,"r":-2.9,"r2":-2.4},{"c":13,"c2":13,"r":-2.9,"r2":-1.26},{"c":14,"c2":15,"r":-1.9,"r2":-1.9},{"c":14,"c2":14,"r":-1.9,"r2":-1.26},{"c":15,"c2":15,"r":-1.9,"r2":-1.26},{"c":14.5,"c2":16,"r":-2.4,"r2":-2.4},{"c":14.5,"c2":14.5,"r":-2.4,"r2":-1.9},{"c":16,"c2":16,"r":-2.4,"r2":-1.26},{"c":11.75,"c2":15.25,"r":-3.25,"r2":-3.25},{"c":11.75,"c2":11.75,"r":-3.25,"r2":-2.9},{"c":15.25,"c2":15.25,"r":-3.25,"r2":-2.4},{"c":3.7,"c2":13.5,"r":-3.6,"r2":-3.6},{"c":3.7,"c2":3.7,"r":-3.6,"r2":-3.1},{"c":13.5,"c2":13.5,"r":-3.6,"r2":-3.25},
{"c":17,"c2":18,"r":-2.2,"r2":-2.2},{"c":17,"c2":17,"r":-2.2,"r2":-1.26},{"c":18,"c2":18,"r":-2.2,"r2":-1.26},{"c":19,"c2":20,"r":-2.2,"r2":-2.2},{"c":19,"c2":19,"r":-2.2,"r2":-1.26},{"c":20,"c2":20,"r":-2.2,"r2":-1.26},{"c":17.5,"c2":19.5,"r":-2.8,"r2":-2.8},{"c":17.5,"c2":17.5,"r":-2.8,"r2":-2.2},{"c":19.5,"c2":19.5,"r":-2.8,"r2":-2.2},{"c":21,"c2":22,"r":-2,"r2":-2},{"c":21,"c2":21,"r":-2,"r2":-1.26},{"c":22,"c2":22,"r":-2,"r2":-1.26},{"c":23,"c2":24,"r":-2,"r2":-2},{"c":23,"c2":23,"r":-2,"r2":-1.26},{"c":24,"c2":24,"r":-2,"r2":-1.26},{"c":21.5,"c2":23.5,"r":-2.4,"r2":-2.4},{"c":21.5,"c2":21.5,"r":-2.4,"r2":-2},{"c":23.5,"c2":23.5,"r":-2.4,"r2":-2},{"c":25,"c2":26,"r":-2,"r2":-2},{"c":25,"c2":25,"r":-2,"r2":-1.26},{"c":26,"c2":26,"r":-2,"r2":-1.26},{"c":22.5,"c2":25.5,"r":-2.8,"r2":-2.8},{"c":22.5,"c2":22.5,"r":-2.8,"r2":-2.4},{"c":25.5,"c2":25.5,"r":-2.8,"r2":-2},{"c":18.5,"c2":24,"r":-3.4,"r2":-3.4},{"c":18.5,"c2":18.5,"r":-3.4,"r2":-2.8},{"c":24,"c2":24,"r":-3.4,"r2":-2.8},{"c":8.6,"c2":21.25,"r":-4,"r2":-4},{"c":8.6,"c2":8.6,"r":-4,"r2":-3.6},{"c":21.25,"c2":21.25,"r":-4,"r2":-3.4},
{"c":0,"c2":0.47,"r":1,"r2":1},{"c":0,"c2":0.47,"r":2,"r2":2},{"c":0,"c2":0,"r":1,"r2":2},{"c":-0.1,"c2":0.47,"r":3,"r2":3},{"c":-0.1,"c2":0.47,"r":4,"r2":4},{"c":-0.1,"c2":-0.1,"r":3,"r2":4},{"c":-0.4,"c2":0,"r":1.5,"r2":1.5},{"c":-0.4,"c2":-0.1,"r":3.5,"r2":3.5},{"c":-0.4,"c2":-0.4,"r":1.5,"r2":3.5},{"c":0,"c2":0.47,"r":5,"r2":5},{"c":0,"c2":0.47,"r":6,"r2":6},{"c":0,"c2":0,"r":5,"r2":6},{"c":0,"c2":0.47,"r":7,"r2":7},{"c":0,"c2":0.47,"r":8,"r2":8},{"c":0,"c2":0,"r":7,"r2":8},{"c":-0.3,"c2":0,"r":5.5,"r2":5.5},{"c":-0.3,"c2":0,"r":7.5,"r2":7.5},{"c":-0.3,"c2":-0.3,"r":5.5,"r2":7.5},{"c":0,"c2":0.47,"r":9,"r2":9},{"c":0,"c2":0.47,"r":10,"r2":10},{"c":0,"c2":0,"r":9,"r2":10},{"c":0,"c2":0.47,"r":11,"r2":11},{"c":0,"c2":0.47,"r":12,"r2":12},{"c":0,"c2":0,"r":11,"r2":12},{"c":-0.2,"c2":0,"r":9.5,"r2":9.5},{"c":-0.2,"c2":0,"r":11.5,"r2":11.5},{"c":-0.2,"c2":-0.2,"r":9.5,"r2":11.5},{"c":0,"c2":0.47,"r":13,"r2":13},{"c":0,"c2":0.47,"r":14,"r2":14},{"c":0,"c2":0,"r":13,"r2":14},{"c":-0.5,"c2":-0.2,"r":10.5,"r2":10.5},{"c":-0.5,"c2":0,"r":13.5,"r2":13.5},{"c":-0.5,"c2":-0.5,"r":10.5,"r2":13.5},{"c":-0.7,"c2":-0.3,"r":6.5,"r2":6.5},{"c":-0.7,"c2":-0.5,"r":12,"r2":12},{"c":-0.7,"c2":-0.7,"r":6.5,"r2":12},{"c":-1.1,"c2":-0.4,"r":2.5,"r2":2.5},{"c":-1.1,"c2":-0.7,"r":9.25,"r2":9.25},{"c":-1.1,"c2":-1.1,"r":2.5,"r2":9.25},
{"c":0,"c2":0.47,"r":15,"r2":15},{"c":0,"c2":0.47,"r":16,"r2":16},{"c":0,"c2":0,"r":15,"r2":16},{"c":-0.1,"c2":0.47,"r":17,"r2":17},{"c":-0.1,"c2":0.47,"r":18,"r2":18},{"c":-0.1,"c2":-0.1,"r":17,"r2":18},{"c":-0.1,"c2":0.47,"r":19,"r2":19},{"c":-0.1,"c2":0.47,"r":20,"r2":20},{"c":-0.1,"c2":-0.1,"r":19,"r2":20},{"c":-0.3,"c2":-0.1,"r":17.5,"r2":17.5},{"c":-0.3,"c2":-0.1,"r":19.5,"r2":19.5},{"c":-0.3,"c2":-0.3,"r":17.5,"r2":19.5},{"c":-0.7,"c2":0,"r":15.5,"r2":15.5},{"c":-0.7,"c2":-0.3,"r":18.5,"r2":18.5},{"c":-0.7,"c2":-0.7,"r":15.5,"r2":18.5},
{"c":0,"c2":0.47,"r":21,"r2":21},{"c":0,"c2":0.47,"r":22,"r2":22},{"c":0,"c2":0,"r":21,"r2":22},{"c":-0.1,"c2":0.47,"r":23,"r2":23},{"c":-0.1,"c2":0.47,"r":24,"r2":24},{"c":-0.1,"c2":-0.1,"r":23,"r2":24},{"c":-0.4,"c2":0,"r":21.5,"r2":21.5},{"c":-0.4,"c2":-0.1,"r":23.5,"r2":23.5},{"c":-0.4,"c2":-0.4,"r":21.5,"r2":23.5},{"c":0,"c2":0.47,"r":25,"r2":25},{"c":0,"c2":0.47,"r":26,"r2":26},{"c":0,"c2":0,"r":25,"r2":26},{"c":0,"c2":0.47,"r":27,"r2":27},{"c":0,"c2":0.47,"r":28,"r2":28},{"c":0,"c2":0,"r":27,"r2":28},{"c":-0.2,"c2":0,"r":25.5,"r2":25.5},{"c":-0.2,"c2":0,"r":27.5,"r2":27.5},{"c":-0.2,"c2":-0.2,"r":25.5,"r2":27.5},{"c":0,"c2":0.47,"r":29,"r2":29},{"c":0,"c2":0.47,"r":30,"r2":30},{"c":0,"c2":0,"r":29,"r2":30},{"c":0,"c2":0.47,"r":31,"r2":31},{"c":0,"c2":0.47,"r":32,"r2":32},{"c":0,"c2":0,"r":31,"r2":32},{"c":-0.3,"c2":0,"r":29.5,"r2":29.5},{"c":-0.3,"c2":0,"r":31.5,"r2":31.5},{"c":-0.3,"c2":-0.3,"r":29.5,"r2":31.5},{"c":-0.6,"c2":-0.2,"r":26.5,"r2":26.5},{"c":-0.6,"c2":-0.3,"r":30.5,"r2":30.5},{"c":-0.6,"c2":-0.6,"r":26.5,"r2":30.5},{"c":0,"c2":0.47,"r":33,"r2":33},{"c":0,"c2":0.47,"r":34,"r2":34},{"c":0,"c2":0,"r":33,"r2":34},{"c":0,"c2":0.47,"r":35,"r2":35},{"c":0,"c2":0.47,"r":36,"r2":36},{"c":0,"c2":0,"r":35,"r2":36},{"c":-0.2,"c2":0,"r":33.5,"r2":33.5},{"c":-0.2,"c2":0,"r":35.5,"r2":35.5},{"c":-0.2,"c2":-0.2,"r":33.5,"r2":35.5},{"c":-0.4,"c2":-0.2,"r":34.5,"r2":34.5},{"c":-0.4,"c2":0.47,"r":37,"r2":37},{"c":-0.4,"c2":-0.4,"r":34.5,"r2":37},{"c":-0.8,"c2":-0.6,"r":28.5,"r2":28.5},{"c":-0.8,"c2":-0.4,"r":35.75,"r2":35.75},{"c":-0.8,"c2":-0.8,"r":28.5,"r2":35.75},{"c":-1.1,"c2":-0.4,"r":22.5,"r2":22.5},{"c":-1.1,"c2":-0.8,"r":32,"r2":32},{"c":-1.1,"c2":-1.1,"r":22.5,"r2":32},{"c":-1.4,"c2":-1.1,"r":5.9,"r2":5.9},{"c":-1.4,"c2":-0.7,"r":17,"r2":17},{"c":-1.4,"c2":-1.4,"r":5.9,"r2":17},{"c":-1.68,"c2":-1.4,"r":11.4,"r2":11.4},{"c":-1.68,"c2":-1.1,"r":27.3,"r2":27.3},{"c":-1.68,"c2":-1.68,"r":11.4,"r2":27.3}
]},
"vconcat":[
{"bounds":"flush","spacing":107,"resolve":{"scale":{"color":"independent"},"legend":{"color":"independent"}},"hconcat":[
{"width":320,"height":119,"view":{"stroke":"#b5b5b5","strokeWidth":1.5},"encoding":{"x":{"field":"x","type":"quantitative","scale":{"domain":[-38.75,86.5],"nice":false,"zero":false},"axis":{"values":[-30,0,30,60],"grid":true,"gridColor":"#eee","title":"PC1: 71% variance","domain":false,"titlePadding":0}},"y":{"field":"y","type":"quantitative","scale":{"domain":[-20.7,26.4],"nice":false,"zero":false},"axis":{"values":[-20,-10,0,10,20],"grid":true,"gridColor":"#eee","title":"PC2: 8% variance","domain":false,"titlePadding":6}}},"layer":[
{"data":{"values":[{"x":-60.3,"y":34.7,"y2":-33.7}]},"mark":{"type":"rule","opacity":0},"encoding":{"y2":{"field":"y2"}}},
{"data":{"values":[{"g":"Naïve B","x":-12.9,"y":24.3},{"g":"Naïve B","x":-8.9,"y":18.8},{"g":"Naïve B","x":-6.6,"y":17.8},{"g":"Naïve B","x":-3.8,"y":10.4},{"g":"Memory B","x":-20.2,"y":16.1},{"g":"Memory B","x":-15.9,"y":14.8},{"g":"Memory B","x":-9.4,"y":10.8},{"g":"Memory B","x":-11.1,"y":7.5},{"g":"Plasmablast","x":-19.8,"y":9.9},{"g":"Plasmablast","x":-21.6,"y":7.9},{"g":"Plasmablast","x":-13.2,"y":2.1},{"g":"PDX","x":-21.1,"y":-7.1},{"g":"PDX","x":-15.3,"y":-9},{"g":"PDX","x":-11.6,"y":-9.5},{"g":"PDX","x":-24.5,"y":-12.8},{"g":"PDX","x":-25.9,"y":-15.7},{"g":"PDX","x":-20.6,"y":-14.7},{"g":"PDX","x":-33.1,"y":-15.3},{"g":"PDX","x":-32.9,"y":-16},{"g":"PDX","x":-18.4,"y":-16.5},{"g":"PDX","x":-18.3,"y":-18.8},{"g":"CLP","x":75.7,"y":0},{"g":"CLP","x":80.7,"y":-3},{"g":"CLP","x":71.4,"y":-4.2},{"g":"CLP","x":73,"y":-4},{"g":"CLP","x":74.2,"y":-6.2}]},"mark":{"type":"circle","size":26,"opacity":1},"encoding":{"color":{"field":"g","type":"nominal","legend":null,"scale":{"domain":["Naïve B","Memory B","Plasmablast","PDX","CLP"],"range":["#1fb57a","#9a981f","#e36ff0","#1fa5ee","#f4726b"]}}}},
{"data":{"values":[{"x":-5.7,"y":16}]},"mark":{"type":"point","filled":false,"opacity":1,"stroke":"#000","strokeWidth":1.6,"size":4356,"angle":47,"shape":"M-1,0 C-1,-0.182 -0.552,-0.33 0,-0.33 C0.552,-0.33 1,-0.182 1,0 C1,0.182 0.552,0.33 0,0.33 C-0.552,0.33 -1,0.182 -1,0 Z"}},
{"data":{"values":[{"x":-13.3,"y":11.2}]},"mark":{"type":"point","filled":false,"opacity":1,"stroke":"#000","strokeWidth":1.6,"size":3600,"angle":30,"shape":"M-1,0 C-1,-0.182 -0.552,-0.33 0,-0.33 C0.552,-0.33 1,-0.182 1,0 C1,0.182 0.552,0.33 0,0.33 C-0.552,0.33 -1,0.182 -1,0 Z"}},
{"data":{"values":[{"x":-17.5,"y":4.9}]},"mark":{"type":"point","filled":false,"opacity":1,"stroke":"#000","strokeWidth":1.6,"size":2704,"angle":55,"shape":"M-1,0 C-1,-0.182 -0.552,-0.33 0,-0.33 C0.552,-0.33 1,-0.182 1,0 C1,0.182 0.552,0.33 0,0.33 C-0.552,0.33 -1,0.182 -1,0 Z"}},
{"data":{"values":[{"x":-22.7,"y":-12.2}]},"mark":{"type":"point","filled":false,"opacity":1,"stroke":"#000","strokeWidth":1.6,"size":5184,"angle":3,"shape":"M-1,0 C-1,-0.342 -0.552,-0.62 0,-0.62 C0.552,-0.62 1,-0.342 1,0 C1,0.342 0.552,0.62 0,0.62 C-0.552,0.62 -1,0.342 -1,0 Z"}},
{"data":{"values":[{"x":74.6,"y":-2.4}]},"mark":{"type":"point","filled":false,"opacity":1,"stroke":"#000","strokeWidth":1.6,"size":2809,"angle":3,"shape":"M-1,0 C-1,-0.276 -0.552,-0.5 0,-0.5 C0.552,-0.5 1,-0.276 1,0 C1,0.276 0.552,0.5 0,0.5 C-0.552,0.5 -1,0.276 -1,0 Z"}},
{"data":{"values":[{"x":15,"y":11.2,"t":"Naïve B"},{"x":9.3,"y":3,"t":"Memory B"},{"x":4,"y":-5,"t":"Plasmablast"},{"x":-2.7,"y":-16.2,"t":"PDX"},{"x":64.1,"y":-9.8,"t":"CLP"}]},"mark":{"type":"text"},"encoding":{"text":{"field":"t"}}},
{"data":{"values":[{"x":27.4,"y":31.9,"t":"ATAC-seq: normalized counts"}]},"mark":{"type":"text","fontWeight":"bold","fontSize":10.5},"encoding":{"text":{"field":"t"}}},
{"data":{"values":[{"x":-51.7,"y":30.3,"t":"(A)"},{"x":108.4,"y":30.3,"t":"(B)"}]},"mark":{"type":"text","fontSize":13.5},"encoding":{"text":{"field":"t"}}}
]},
{"width":310,"height":132,"title":{"text":"Differentially accessible peaks","fontSize":10.5,"fontWeight":"bold","anchor":"middle","offset":10,"dx":-8.7},"data":{"values":[{"cell":"CLP","set":"PDX high","n":59500},{"cell":"CLP","set":"PDX low","n":13300},{"cell":"Naïve B","set":"PDX high","n":9700},{"cell":"Naïve B","set":"PDX low","n":10000},{"cell":"Memory B","set":"PDX high","n":4900},{"cell":"Memory B","set":"PDX low","n":5400},{"cell":"Plasmablast","set":"PDX high","n":4200},{"cell":"Plasmablast","set":"PDX low","n":3400}]},"mark":{"type":"bar"},"encoding":{"x":{"field":"cell","type":"nominal","sort":["CLP","Naïve B","Memory B","Plasmablast"],"scale":{"paddingInner":0.2,"paddingOuter":0.1},"axis":{"title":null,"labelAngle":0,"ticks":false,"domainColor":"#eee","labelPadding":1}},"xOffset":{"field":"set","type":"nominal","scale":{"paddingInner":0.224,"paddingOuter":0.5}},"y":{"field":"n","type":"quantitative","scale":{"domain":[0,81053],"nice":false},"axis":{"values":[0,10000,20000,30000,40000,50000,60000,70000],"grid":true,"gridColor":"#eee","domain":false,"ticks":false,"title":"Number of peaks","format":"d","titlePadding":9,"labelPadding":5}},"color":{"field":"set","type":"nominal","scale":{"domain":["PDX high","PDX low"],"range":["#2b5cb8","#d0def2"]},"legend":{"orient":"none","legendX":75,"legendY":0,"direction":"horizontal","title":null,"symbolType":"square","symbolSize":121,"symbolStrokeWidth":0,"labelFontSize":10.2,"labelColor":"#222","columnPadding":22,"labelOffset":3}}}}
]},
{"bounds":"flush","spacing":4,"resolve":{"scale":{"color":"independent"},"legend":{"color":"independent"}},"hconcat":[
{"width":25,"height":204,"encoding":{"x":{"field":"x","type":"quantitative","scale":{"domain":[0,25],"nice":false,"zero":false},"axis":null},"y":{"field":"y","type":"quantitative","scale":{"domain":[0,204],"reverse":true,"nice":false,"zero":false},"axis":null}},"layer":[
{"data":{"values":[{"x":-55,"y":-54.3,"y2":249.7}]},"mark":{"type":"rule","opacity":0},"encoding":{"y2":{"field":"y2"}}},
{"data":{"values":[{"x":-38.3,"y":13.4,"t":"cluster 1"},{"x":-38.3,"y":26,"t":"(20278 peaks)"},{"x":-38.3,"y":47,"t":"cluster 2"},{"x":-38.3,"y":59.4,"t":"(7310 peaks)"},{"x":-38.3,"y":142,"t":"cluster 3"},{"x":-38.3,"y":154.7,"t":"(82983 peaks)"}]},"mark":{"type":"text","align":"left"},"encoding":{"text":{"field":"t"}}},
{"data":{"values":[{"x":156,"y":-40,"t":"Differentially accessible peaks"},{"x":156,"y":-28,"t":"(PDX vs. Normal cells)"}]},"mark":{"type":"text","fontWeight":"bold","fontSize":10.5},"encoding":{"text":{"field":"t"}}},
{"data":{"values":[{"x":-34,"y":-37.3,"t":"(C)"}]},"mark":{"type":"text","fontSize":13.5},"encoding":{"text":{"field":"t"}}}
]},
{"width":55,"height":204,"view":{"stroke":"#808080","strokeWidth":1.5},"title":{"text":"CLP","fontSize":10.2,"fontWeight":"normal","offset":1},"encoding":{"x":{"field":"x","type":"quantitative","scale":{"domain":[-3,3],"nice":false,"zero":false},"axis":{"title":null,"values":[-3,0,3],"labelExpr":"datum.value<0?'-3.0':datum.value>0?'3.0kb':''","labelAlign":{"condition":{"test":"datum.value<0","value":"left"},"value":"right"},"labelFontSize":9,"domain":false,"tickSize":1,"labelPadding":0}},"y":{"field":"y","type":"quantitative","scale":{"domain":[0,204],"reverse":true,"nice":false,"zero":false},"axis":null}},"layer":[
{"data":{"name":"c"},"transform":[{"filter":"datum.p==='CLP'"}],"mark":"rect","encoding":{"x2":{"field":"x2"},"y2":{"field":"y2"},"color":{"field":"v","type":"quantitative","scale":{"domain":[0,12,35,60,80,100],"range":["#ffffff","#deebf7","#9ecae1","#4292c6","#08519c","#08306b"]},"legend":null}}},
{"data":{"values":[{"x":-3,"x2":3,"y":37.7},{"x":-3,"x2":3,"y":52}]},"mark":{"type":"rule","stroke":"#7f7f7f","strokeWidth":1.8},"encoding":{"x2":{"field":"x2"}}}
]},
{"width":55,"height":204,"view":{"stroke":"#808080","strokeWidth":1.5},"title":{"text":"Naïve B","fontSize":10.2,"fontWeight":"normal","offset":1},"encoding":{"x":{"field":"x","type":"quantitative","scale":{"domain":[-3,3],"nice":false,"zero":false},"axis":{"title":null,"values":[-3,0,3],"labelExpr":"datum.value<0?'-3.0':datum.value>0?'3.0kb':''","labelAlign":{"condition":{"test":"datum.value<0","value":"left"},"value":"right"},"labelFontSize":9,"domain":false,"tickSize":1,"labelPadding":0}},"y":{"field":"y","type":"quantitative","scale":{"domain":[0,204],"reverse":true,"nice":false,"zero":false},"axis":null}},"layer":[
{"data":{"name":"c"},"transform":[{"filter":"datum.p==='NB'"}],"mark":"rect","encoding":{"x2":{"field":"x2"},"y2":{"field":"y2"},"color":{"field":"v","type":"quantitative","scale":{"domain":[0,12,35,60,80,100],"range":["#ffffff","#deebf7","#9ecae1","#4292c6","#08519c","#08306b"]},"legend":null}}},
{"data":{"values":[{"x":-3,"x2":3,"y":37.7},{"x":-3,"x2":3,"y":52}]},"mark":{"type":"rule","stroke":"#7f7f7f","strokeWidth":1.8},"encoding":{"x2":{"field":"x2"}}}
]},
{"width":55,"height":204,"view":{"stroke":"#808080","strokeWidth":1.5},"title":{"text":"Memory B","fontSize":10.2,"fontWeight":"normal","offset":1},"encoding":{"x":{"field":"x","type":"quantitative","scale":{"domain":[-3,3],"nice":false,"zero":false},"axis":{"title":null,"values":[-3,0,3],"labelExpr":"datum.value<0?'-3.0':datum.value>0?'3.0kb':''","labelAlign":{"condition":{"test":"datum.value<0","value":"left"},"value":"right"},"labelFontSize":9,"domain":false,"tickSize":1,"labelPadding":0}},"y":{"field":"y","type":"quantitative","scale":{"domain":[0,204],"reverse":true,"nice":false,"zero":false},"axis":null}},"layer":[
{"data":{"name":"c"},"transform":[{"filter":"datum.p==='MB'"}],"mark":"rect","encoding":{"x2":{"field":"x2"},"y2":{"field":"y2"},"color":{"field":"v","type":"quantitative","scale":{"domain":[0,12,35,60,80,100],"range":["#ffffff","#deebf7","#9ecae1","#4292c6","#08519c","#08306b"]},"legend":null}}},
{"data":{"values":[{"x":-3,"x2":3,"y":37.7},{"x":-3,"x2":3,"y":52}]},"mark":{"type":"rule","stroke":"#7f7f7f","strokeWidth":1.8},"encoding":{"x2":{"field":"x2"}}}
]},
{"width":55,"height":204,"view":{"stroke":"#808080","strokeWidth":1.5},"title":{"text":"Plasmablast","fontSize":10.2,"fontWeight":"normal","offset":1},"encoding":{"x":{"field":"x","type":"quantitative","scale":{"domain":[-3,3],"nice":false,"zero":false},"axis":{"title":null,"values":[-3,0,3],"labelExpr":"datum.value<0?'-3.0':datum.value>0?'3.0kb':''","labelAlign":{"condition":{"test":"datum.value<0","value":"left"},"value":"right"},"labelFontSize":9,"domain":false,"tickSize":1,"labelPadding":0}},"y":{"field":"y","type":"quantitative","scale":{"domain":[0,204],"reverse":true,"nice":false,"zero":false},"axis":null}},"layer":[
{"data":{"name":"c"},"transform":[{"filter":"datum.p==='PB'"}],"mark":"rect","encoding":{"x2":{"field":"x2"},"y2":{"field":"y2"},"color":{"field":"v","type":"quantitative","scale":{"domain":[0,12,35,60,80,100],"range":["#ffffff","#deebf7","#9ecae1","#4292c6","#08519c","#08306b"]},"legend":null}}},
{"data":{"values":[{"x":-3,"x2":3,"y":37.7},{"x":-3,"x2":3,"y":52}]},"mark":{"type":"rule","stroke":"#7f7f7f","strokeWidth":1.8},"encoding":{"x2":{"field":"x2"}}}
]},
{"width":55,"height":204,"view":{"stroke":"#808080","strokeWidth":1.5},"title":{"text":"PDX","fontSize":10.2,"fontWeight":"normal","offset":1},"encoding":{"x":{"field":"x","type":"quantitative","scale":{"domain":[-3,3],"nice":false,"zero":false},"axis":{"title":null,"values":[-3,0,3],"labelExpr":"datum.value<0?'-3.0':datum.value>0?'3.0kb':''","labelAlign":{"condition":{"test":"datum.value<0","value":"left"},"value":"right"},"labelFontSize":9,"domain":false,"tickSize":1,"labelPadding":0}},"y":{"field":"y","type":"quantitative","scale":{"domain":[0,204],"reverse":true,"nice":false,"zero":false},"axis":null}},"layer":[
{"data":{"name":"c"},"transform":[{"filter":"datum.p==='PDX'"}],"mark":"rect","encoding":{"x2":{"field":"x2"},"y2":{"field":"y2"},"color":{"field":"v","type":"quantitative","scale":{"domain":[0,12,35,60,80,100],"range":["#ffffff","#deebf7","#9ecae1","#4292c6","#08519c","#08306b"]},"legend":{"orient":"none","legendX":-48.3,"legendY":216,"direction":"horizontal","gradientLength":103,"gradientThickness":5,"title":"Normalized signal","titleFontSize":9,"titleFontWeight":"normal","titlePadding":1,"titleAnchor":"middle","titleColor":"#222","labelFontSize":9,"labelColor":"#222","values":[0,100]}}}},
{"data":{"values":[{"x":-3,"x2":3,"y":37.7},{"x":-3,"x2":3,"y":52}]},"mark":{"type":"rule","stroke":"#7f7f7f","strokeWidth":1.8},"encoding":{"x2":{"field":"x2"}}}
]},
{"width":401,"height":204,"encoding":{"x":{"field":"x","type":"quantitative","scale":{"domain":[0,100],"nice":false,"zero":false},"axis":null},"y":{"field":"row","type":"quantitative","scale":{"domain":[0.456,13.2625],"reverse":true,"nice":false,"zero":false},"axis":null}},"layer":[
{"data":{"values":[{"row":-1.33,"t":"GREAT analysis","x":58.3}]},"mark":{"type":"text","fontWeight":"bold","fontSize":10.5},"encoding":{"text":{"field":"t"}}},
{"data":{"values":[{"row":0.04,"t":"GO terms","x":11.3},{"row":1,"t":"Leukocyte activation","x":11.3},{"row":1.92,"t":"Immune effector process","x":11.3},{"row":2.96,"t":"Cytokine-mediated signaling pathway","x":11.3},{"row":4,"t":"Phosphotyrosine binding","x":11.3},{"row":5.04,"t":"I-kappa B /NF-kappa B complex","x":11.3},{"row":6.06,"t":"MAP kinase activity","x":11.3},{"row":8.56,"t":"Lamellipodium assembly","x":11.3},{"row":9.54,"t":"Regulation of leukocyte proliferation","x":11.3},{"row":10.56,"t":"Fc receptor signaling pathway","x":11.3},{"row":11.56,"t":"Positive regulation of hemopoiesis","x":11.3},{"row":12.54,"t":"Regulation of lymphocyte differentiation","x":11.3},{"row":13.56,"t":"PI3K complex, class I","x":11.3}]},"mark":{"type":"text","align":"left","fontSize":11.2},"encoding":{"text":{"field":"t"}}},
{"data":{"values":[{"row":0.04,"t":"Binom FDR Q-Val","x":84.8}]},"mark":{"type":"text","fontSize":11.2},"encoding":{"text":{"field":"t"}}},
{"data":{"values":[{"row":1,"t":"1.69E-268","x":79},{"row":1.92,"t":"4.94E-262","x":79},{"row":2.96,"t":"2.16E-161","x":79},{"row":4,"t":"4.23E-21","x":79},{"row":5.04,"t":"2.86E-12","x":79},{"row":6.06,"t":"2.78E-09","x":79},{"row":8.56,"t":"8.58E-26","x":79},{"row":9.54,"t":"3.86E-24","x":79},{"row":10.56,"t":"7.92E-22","x":79},{"row":11.56,"t":"8.33E-22","x":79},{"row":12.54,"t":"2.76E-19","x":79},{"row":13.56,"t":"2.25E-07","x":79}]},"mark":{"type":"text","align":"left","fontSize":11.2},"encoding":{"text":{"field":"t"}}},
{"data":{"values":[{"x":-0.17,"x2":7.9,"row":1.5,"row2":1.89},{"x":0.5,"x2":7.56,"row":3.1,"row2":8.56}]},"mark":{"type":"rule","stroke":"#000","strokeWidth":1.3},"encoding":{"x2":{"field":"x2"},"y2":{"field":"row2"}}},
{"data":{"values":[{"x":6.68,"row":1.83}]},"mark":{"type":"point","filled":true,"fill":"#000","opacity":1,"size":100,"angle":11,"shape":"M-1,-0.8 L1,0 L-1,0.8 L-0.4,0 Z"}},
{"data":{"values":[{"x":7.18,"row":8.26}]},"mark":{"type":"point","filled":true,"fill":"#000","opacity":1,"size":100,"angle":72,"shape":"M-1,-0.8 L1,0 L-1,0.8 L-0.4,0 Z"}}
]}
]},
{"bounds":"flush","spacing":76,"resolve":{"scale":{"color":"independent","fill":"independent"},"legend":{"color":"independent","fill":"independent"}},"hconcat":[
{"width":315,"height":200,"encoding":{"x":{"field":"x","type":"quantitative","scale":{"domain":[-17.08,17.04],"nice":false,"zero":false},"axis":{"values":[-10,0,10],"title":"tSNE dim 1","domainWidth":1.5,"labelPadding":3,"titlePadding":1}},"y":{"field":"y","type":"quantitative","scale":{"domain":[-41.4,59.6],"nice":false,"zero":false},"axis":{"values":[-40,-20,0,20,40],"title":"tSNE dim 2","domainWidth":1.5,"labelPadding":4,"titlePadding":6}}},"layer":[
{"data":{"values":[{"x":-23,"y":71.4,"y2":-62}]},"mark":{"type":"rule","opacity":0},"encoding":{"y2":{"field":"y2"}}},
{"data":{"values":[{"g":"CLP","x":-1.95,"y":49.8},{"g":"CLP","x":0.04,"y":55.2},{"g":"CLP","x":4.1,"y":46.8},{"g":"CLP","x":5.1,"y":53.4},{"g":"CLP","x":8.5,"y":49},{"g":"PDX","x":-7.15,"y":12.6},{"g":"PDX","x":-3.9,"y":16.5},{"g":"PDX","x":-1.7,"y":9.8},{"g":"PDX","x":3.7,"y":11.8},{"g":"PDX","x":-9.35,"y":2.5},{"g":"PDX","x":1.26,"y":1.9},{"g":"PDX","x":-11.7,"y":-7.9},{"g":"PDX","x":-7,"y":-4.5},{"g":"PDX","x":-2.5,"y":-3.2},{"g":"PDX","x":-2.5,"y":-9.9},{"g":"Plasmablast","x":-10.4,"y":-18.5},{"g":"Plasmablast","x":-10.3,"y":-23.6},{"g":"Plasmablast","x":-15.5,"y":-24.2},{"g":"Memory B","x":4.8,"y":-18},{"g":"Memory B","x":3.8,"y":-26.4},{"g":"Memory B","x":3.3,"y":-33.2},{"g":"Memory B","x":7.3,"y":-36.7},{"g":"Naïve B","x":8.7,"y":-22},{"g":"Naïve B","x":9.4,"y":-29.6},{"g":"Naïve B","x":13.8,"y":-26.9},{"g":"Naïve B","x":15.5,"y":-34.7}]},"mark":{"type":"circle","size":55,"opacity":1},"encoding":{"color":{"field":"g","type":"nominal","legend":null,"scale":{"domain":["CLP","PDX","Plasmablast","Memory B","Naïve B"],"range":["#1b9e77","#e7298a","#66a61e","#d95f02","#7570b3"]}}}},
{"data":{"values":[{"x":2.86,"y":51.3}]},"mark":{"type":"point","filled":false,"opacity":1,"stroke":"#000","strokeWidth":1.5,"size":28900,"angle":0,"shape":"M-1,0 C-1,-0.11 -0.552,-0.2 0,-0.2 C0.552,-0.2 1,-0.11 1,0 C1,0.11 0.552,0.2 0,0.2 C-0.552,0.2 -1,0.11 -1,0 Z"}},
{"data":{"values":[{"x":-4.2,"y":2.5}]},"mark":{"type":"point","filled":false,"opacity":1,"stroke":"#000","strokeWidth":1.5,"size":28900,"angle":-8,"shape":"M-1,0 C-1,-0.243 -0.552,-0.44 0,-0.44 C0.552,-0.44 1,-0.243 1,0 C1,0.243 0.552,0.44 0,0.44 C-0.552,0.44 -1,0.243 -1,0 Z"}},
{"data":{"values":[{"x":-12.4,"y":-24.1}]},"mark":{"type":"point","filled":false,"opacity":1,"stroke":"#000","strokeWidth":1.5,"size":5184,"angle":3,"shape":"M-1,0 C-1,-0.298 -0.552,-0.54 0,-0.54 C0.552,-0.54 1,-0.298 1,0 C1,0.298 0.552,0.54 0,0.54 C-0.552,0.54 -1,0.298 -1,0 Z"}},
{"data":{"values":[{"x":5.1,"y":-27.6}]},"mark":{"type":"point","filled":false,"opacity":1,"stroke":"#000","strokeWidth":1.5,"size":3844,"angle":45,"shape":"M-1,0 C-1,-0.442 -0.552,-0.8 0,-0.8 C0.552,-0.8 1,-0.442 1,0 C1,0.442 0.552,0.8 0,0.8 C-0.552,0.8 -1,0.442 -1,0 Z"}},
{"data":{"values":[{"x":12.9,"y":-24.6}]},"mark":{"type":"point","filled":false,"opacity":1,"stroke":"#000","strokeWidth":1.5,"size":8100,"angle":20,"shape":"M-1,0 C-1,-0.353 -0.552,-0.64 0,-0.64 C0.552,-0.64 1,-0.353 1,0 C1,0.353 0.552,0.64 0,0.64 C-0.552,0.64 -1,0.353 -1,0 Z"}},
{"data":{"values":[{"x":6.35,"y":38.9,"t":"CLP"},{"x":-4.1,"y":28.5,"t":"PDX"},{"x":13.3,"y":-1.3,"t":"Naïve B"},{"x":6.1,"y":-8.6,"t":"Memory B"},{"x":-4.4,"y":-28,"t":"Plasmablast"}]},"mark":{"type":"text"},"encoding":{"text":{"field":"t"}}},
{"data":{"values":[{"x":1.23,"y":65,"t":"ChromVAR motif incidence deviation score"}]},"mark":{"type":"text","fontWeight":"bold","fontSize":10.5},"encoding":{"text":{"field":"t"}}},
{"data":{"values":[{"x":-20.8,"y":66.7,"t":"(D)"}]},"mark":{"type":"text","fontSize":13.5},"encoding":{"text":{"field":"t"}}}
]},
{"width":254,"height":222,"encoding":{"x":{"field":"c","type":"quantitative","scale":{"domain":[0.5,26.5],"nice":false,"zero":false},"axis":null},"y":{"field":"r","type":"quantitative","scale":{"domain":[-3.94,37.5],"reverse":true,"nice":false,"zero":false},"axis":null}},"layer":[
{"data":{"name":"e"},"mark":{"type":"rect","width":9.77,"height":5.36,"stroke":"#8f8f8f","strokeWidth":0.4},"encoding":{"color":{"field":"v","type":"quantitative","scale":{"domain":[-3.3,-2.2,-1.1,0,1.1,2.2,3.3],"range":["#4575B4","#91BFDB","#E0F3F8","#FFFFBF","#FEE090","#FC8D59","#D73027"]},"legend":{"orient":"none","legendX":311.4,"legendY":104.7,"gradientLength":87,"gradientThickness":6,"title":"Deviation score","titleOrient":"left","titleAngle":270,"titlePadding":-9,"titleFontSize":9.5,"titleFontWeight":"normal","titleColor":"#222","titleAlign":"center","titleBaseline":"bottom","labelFontSize":9.5,"labelColor":"#222","values":[-3,-2,-1,0,1,2,3]}}}},
{"data":{"values":[{"c":1,"g":"Naïve B","r":-0.38},{"c":2,"g":"Memory B","r":-0.38},{"c":3,"g":"Memory B","r":-0.38},{"c":4,"g":"Memory B","r":-0.38},{"c":5,"g":"Naïve B","r":-0.38},{"c":6,"g":"Memory B","r":-0.38},{"c":7,"g":"Naïve B","r":-0.38},{"c":8,"g":"Naïve B","r":-0.38},{"c":9,"g":"CLP","r":-0.38},{"c":10,"g":"CLP","r":-0.38},{"c":11,"g":"CLP","r":-0.38},{"c":12,"g":"CLP","r":-0.38},{"c":13,"g":"CLP","r":-0.38},{"c":14,"g":"Plasmablast","r":-0.38},{"c":15,"g":"Plasmablast","r":-0.38},{"c":16,"g":"Plasmablast","r":-0.38},{"c":17,"g":"PDX","r":-0.38},{"c":18,"g":"PDX","r":-0.38},{"c":19,"g":"PDX","r":-0.38},{"c":20,"g":"PDX","r":-0.38},{"c":21,"g":"PDX","r":-0.38},{"c":22,"g":"PDX","r":-0.38},{"c":23,"g":"PDX","r":-0.38},{"c":24,"g":"PDX","r":-0.38},{"c":25,"g":"PDX","r":-0.38},{"c":26,"g":"PDX","r":-0.38}]},"mark":{"type":"rect","width":9.8,"height":9.4},"encoding":{"fill":{"field":"g","type":"nominal","scale":{"domain":["Naïve B","Memory B","CLP","Plasmablast","PDX"],"range":["#17b2b2","#12b02e","#f4605a","#ef4fdc","#6fa8f0"]},"legend":{"orient":"none","legendX":-23,"legendY":-19,"direction":"horizontal","title":null,"symbolType":"square","symbolSize":70,"symbolStrokeWidth":0,"labelFontSize":10.2,"labelColor":"#222","columnPadding":25,"labelOffset":3}}}},
{"data":{"name":"tree"},"mark":{"type":"rule","stroke":"#666","strokeWidth":0.6},"encoding":{"x2":{"field":"c2"},"y2":{"field":"r2"}}},
{"data":{"values":[{"c":0.5,"c2":27.05,"r":0.5,"r2":0.5},{"c":0.5,"c2":27.05,"r":14.5,"r2":14.5},{"c":0.5,"c2":27.05,"r":20.5,"r2":20.5},{"c":0.5,"c2":26.5,"r":37.5,"r2":37.5},{"c":0.5,"c2":0.5,"r":0.5,"r2":37.5},{"c":16.5,"c2":16.5,"r":0.5,"r2":37.5},{"c":26.5,"c2":26.5,"r":0.5,"r2":37.5}]},"mark":{"type":"rule","stroke":"#000","strokeWidth":1.1},"encoding":{"x2":{"field":"c2"},"y2":{"field":"r2"}}},
{"data":{"values":[{"c":26.75,"r":2.75,"t":"ETS family"},{"c":26.75,"r":4.74,"t":"ELF1"},{"c":26.75,"r":6.8,"t":"ETV6"},{"c":26.75,"r":8.8,"t":"ELF4"},{"c":26.75,"r":16.47,"t":"IRF2  IRF8"},{"c":26.75,"r":18.3,"t":"IRF7  IRF9"},{"c":26.75,"r":22.65,"t":"AP-1 family"},{"c":26.75,"r":24.8,"t":"NF-κB family"},{"c":26.75,"r":27,"t":"POU family"}]},"mark":{"type":"text","align":"left"},"encoding":{"text":{"field":"t"}}},
{"data":{"values":[{"c":27.15,"r":0.55,"t":"group 1"},{"c":27.15,"r":14.4,"t":"group 2"},{"c":27.15,"r":20.3,"t":"group 3"}]},"mark":{"type":"text","align":"left","fontWeight":"bold"},"encoding":{"text":{"field":"t"}}},
{"data":{"values":[{"c":-3.6,"r":-6.93,"t":"(E)"}]},"mark":{"type":"text","fontSize":13.5},"encoding":{"text":{"field":"t"}}}
]}
]},
{"bounds":"flush","spacing":62,"resolve":{"scale":{"color":"independent"},"legend":{"color":"independent"}},"hconcat":[
{"width":120,"height":153,"encoding":{"x":{"field":"x","type":"quantitative","scale":{"domain":[-14.29,14.29],"nice":false,"zero":false},"axis":{"values":[-10,0,10],"title":"tSNE dim 1","labelPadding":5,"titlePadding":2}},"y":{"field":"y","type":"quantitative","scale":{"domain":[-42.4,59.2],"nice":false,"zero":false},"axis":{"values":[-40,-20,0,20,40],"title":"tSNE dim 2","labelPadding":4,"titlePadding":1,"offset":2}}},"layer":[
{"data":{"values":[{"x":-27.4,"y":83.4,"y2":-60}]},"mark":{"type":"rule","opacity":0},"encoding":{"y2":{"field":"y2"}}},
{"data":{"values":[{"x":0,"y":55,"v":-1.3},{"x":4.4,"y":53.2,"v":-0.7},{"x":-1.7,"y":50.1,"v":-1.2},{"x":3.5,"y":47.2,"v":-2},{"x":7.2,"y":49.2,"v":-1.7},{"x":-3.4,"y":19.4,"v":0.7},{"x":-6.3,"y":15.9,"v":1.7},{"x":-1.6,"y":13.2,"v":3.3},{"x":3.2,"y":15,"v":3.1},{"x":-8.2,"y":6.6,"v":2.2},{"x":1,"y":6,"v":0.8},{"x":-6.1,"y":0,"v":-0.3},{"x":-2.2,"y":1.1,"v":-0.1},{"x":-10.2,"y":-2.9,"v":-2.3},{"x":-2.2,"y":-4.9,"v":-1},{"x":-9,"y":-12.6,"v":-1},{"x":-13.3,"y":-18.1,"v":1.2},{"x":-8.9,"y":-17.4,"v":0.5},{"x":4,"y":-12.1,"v":-1},{"x":7.5,"y":-15.9,"v":-1.5},{"x":3.3,"y":-19.9,"v":-0.8},{"x":8,"y":-23,"v":-1.3},{"x":11.8,"y":-20.3,"v":-0.5},{"x":2.7,"y":-26.3,"v":0.7},{"x":13.3,"y":-27.6,"v":-1.1},{"x":6.3,"y":-29.4,"v":1.7}]},"mark":{"type":"circle","size":36,"opacity":1},"encoding":{"color":{"field":"v","type":"quantitative","scale":{"domain":[-2.3,0,3.3],"range":["#6a45e6","#cfcfcf","#ee1010"]},"legend":{"orient":"none","legendX":120,"legendY":93,"gradientLength":60,"gradientThickness":6,"title":"Deviation score","titleOrient":"left","titleAngle":270,"titlePadding":-9,"titleFontSize":9.5,"titleFontWeight":"normal","titleColor":"#222","titleAlign":"center","titleBaseline":"bottom","labelFontSize":10,"labelColor":"#222","values":[-2,-1,0,1,2,3]}}}},
{"data":{"values":[{"x":-4,"y":6.8}]},"mark":{"type":"point","filled":false,"opacity":1,"stroke":"#000","strokeWidth":1.1,"size":6724,"angle":-8,"shape":"M-1,0 C-1,-0.387 -0.552,-0.7 0,-0.7 C0.552,-0.7 1,-0.387 1,0 C1,0.387 0.552,0.7 0,0.7 C-0.552,0.7 -1,0.387 -1,0 Z"}},
{"data":{"values":[{"x":-10.95,"y":26.5,"t":"PDX"},{"x":2.5,"y":63.1,"t":"FOS"}]},"mark":{"type":"text"},"encoding":{"text":{"field":"t"}}},
{"data":{"values":[{"x":-23.6,"x2":65.2,"y":69.5}]},"mark":{"type":"rule","stroke":"#000","strokeWidth":1.2},"encoding":{"x2":{"field":"x2"}}},
{"data":{"values":[{"x":20.7,"y":74.2,"t":"AP-1 family"}]},"mark":{"type":"text","fontWeight":"bold"},"encoding":{"text":{"field":"t"}}},
{"data":{"values":[{"x":-25,"y":80.1,"t":"(F)"}]},"mark":{"type":"text","fontSize":13.5},"encoding":{"text":{"field":"t"}}}
]},
{"width":143,"height":153,"encoding":{"x":{"field":"x","type":"quantitative","scale":{"domain":[-15.26,16.93],"nice":false,"zero":false},"axis":{"values":[-10,0,10],"title":"tSNE dim 1","labelPadding":5,"titlePadding":2}},"y":{"field":"y","type":"quantitative","scale":{"domain":[-42.4,59.2],"nice":false,"zero":false},"axis":{"values":[-40,-20,0,20,40],"title":"tSNE dim 2","labelPadding":4,"titlePadding":1}}},"layer":[
{"data":{"values":[{"x":0.2,"y":54.7,"v":-1},{"x":4.7,"y":52.8,"v":-1.2},{"x":-1.7,"y":49.4,"v":-1.3},{"x":3.8,"y":46.4,"v":-2.3},{"x":7.8,"y":48.8,"v":-0.9},{"x":-3.5,"y":17.2,"v":1.3},{"x":-6.5,"y":13.5,"v":2.2},{"x":-1.4,"y":10.6,"v":0.5},{"x":3.5,"y":12.6,"v":0.4},{"x":-8.4,"y":3.5,"v":1.5},{"x":1.3,"y":2.9,"v":-0.1},{"x":-6.2,"y":-3.3,"v":0.9},{"x":-2.2,"y":-2,"v":0.3},{"x":-10.6,"y":-6.4,"v":2.3},{"x":-2.2,"y":-8.6,"v":1.1},{"x":-9.3,"y":-17,"v":0.8},{"x":-13.9,"y":-22.5,"v":0.2},{"x":-9.2,"y":-21.9,"v":-0.4},{"x":4.5,"y":-16.3,"v":-2.7},{"x":8,"y":-20.3,"v":-2.5},{"x":3.6,"y":-24.5,"v":-1.1},{"x":8.7,"y":-27.6,"v":-3.2},{"x":12.7,"y":-24.9,"v":-2.8},{"x":3.1,"y":-31.1,"v":-1.7},{"x":14.3,"y":-32.5,"v":-2.6},{"x":6.8,"y":-34.7,"v":-1.6}]},"mark":{"type":"circle","size":36,"opacity":1},"encoding":{"color":{"field":"v","type":"quantitative","scale":{"domain":[-3.2,0,2.3],"range":["#1a00f0","#cfcfcf","#f01010"]},"legend":{"orient":"none","legendX":136.7,"legendY":95.7,"gradientLength":57,"gradientThickness":6,"title":"Deviation score","titleOrient":"left","titleAngle":270,"titlePadding":-9,"titleFontSize":9.5,"titleFontWeight":"normal","titleColor":"#222","titleAlign":"center","titleBaseline":"bottom","labelFontSize":10,"labelColor":"#222","values":[-3,-2,-1,0,1,2]}}}},
{"data":{"values":[{"x":-4.3,"y":5}]},"mark":{"type":"point","filled":false,"opacity":1,"stroke":"#000","strokeWidth":1.1,"size":6724,"angle":-8,"shape":"M-1,0 C-1,-0.387 -0.552,-0.7 0,-0.7 C0.552,-0.7 1,-0.387 1,0 C1,0.387 0.552,0.7 0,0.7 C-0.552,0.7 -1,0.387 -1,0 Z"}},
{"data":{"values":[{"x":-11,"y":26.5,"t":"PDX"},{"x":0,"y":63.1,"t":"JUN"}]},"mark":{"type":"text"},"encoding":{"text":{"field":"t"}}}
]},
{"width":126,"height":153,"encoding":{"x":{"field":"x","type":"quantitative","scale":{"domain":[-15,16],"nice":false,"zero":false},"axis":{"values":[-10,0,10],"title":"tSNE dim 1","labelPadding":5,"titlePadding":2}},"y":{"field":"y","type":"quantitative","scale":{"domain":[-42.4,59.2],"nice":false,"zero":false},"axis":{"values":[-40,-20,0,20,40],"title":"tSNE dim 2","labelPadding":4,"titlePadding":1}}},"layer":[
{"data":{"values":[{"x":0.1,"y":54.5,"v":-0.8},{"x":4.6,"y":52.8,"v":-0.7},{"x":-1.6,"y":49.4,"v":-0.7},{"x":3.7,"y":46.6,"v":0},{"x":7.6,"y":48.8,"v":-0.2},{"x":-3.4,"y":17.9,"v":2.8},{"x":-6.3,"y":14.1,"v":4.5},{"x":-1.4,"y":11.3,"v":4.5},{"x":3.4,"y":13.5,"v":3.5},{"x":-8.2,"y":4.6,"v":1.8},{"x":1.1,"y":4,"v":0.8},{"x":-6.1,"y":-2.2,"v":1.2},{"x":-2.2,"y":-0.9,"v":0.6},{"x":-10.4,"y":-5.3,"v":-0.5},{"x":-2.2,"y":-7.3,"v":-0.3},{"x":-9.2,"y":-15.5,"v":-2.3},{"x":-13.7,"y":-20.8,"v":-1.3},{"x":-9.1,"y":-20.3,"v":-1.8},{"x":4.3,"y":-14.8,"v":-1},{"x":7.8,"y":-18.8,"v":-0.9},{"x":3.4,"y":-22.9,"v":-1.6},{"x":8.4,"y":-26,"v":-2.3},{"x":12.4,"y":-23.4,"v":-2},{"x":3,"y":-29.4,"v":-0.8},{"x":13.8,"y":-30.5,"v":-1.2},{"x":6.6,"y":-32.7,"v":-2.2}]},"mark":{"type":"circle","size":36,"opacity":1},"encoding":{"color":{"field":"v","type":"quantitative","scale":{"domain":[-2.5,0,4.5],"range":["#6a45e6","#cfcfcf","#ee1010"]},"legend":{"orient":"none","legendX":123.4,"legendY":93.7,"gradientLength":58,"gradientThickness":6,"title":"Deviation score","titleOrient":"left","titleAngle":270,"titlePadding":-9,"titleFontSize":9.5,"titleFontWeight":"normal","titleColor":"#222","titleAlign":"center","titleBaseline":"bottom","labelFontSize":10,"labelColor":"#222","values":[-2,0,2,4]}}}},
{"data":{"values":[{"x":-3.85,"y":6.6}]},"mark":{"type":"point","filled":false,"opacity":1,"stroke":"#000","strokeWidth":1.1,"size":6724,"angle":-8,"shape":"M-1,0 C-1,-0.387 -0.552,-0.7 0,-0.7 C0.552,-0.7 1,-0.387 1,0 C1,0.387 0.552,0.7 0,0.7 C-0.552,0.7 -1,0.387 -1,0 Z"}},
{"data":{"values":[{"x":-11.3,"y":26,"t":"PDX"},{"x":-0.9,"y":63.1,"t":"NFKB1"}]},"mark":{"type":"text"},"encoding":{"text":{"field":"t"}}},
{"data":{"values":[{"x":-22.95,"x2":19.5,"y":69.5}]},"mark":{"type":"rule","stroke":"#000","strokeWidth":1.2},"encoding":{"x2":{"field":"x2"}}},
{"data":{"values":[{"x":-0.25,"y":74.2,"t":"NF-κB family"}]},"mark":{"type":"text","fontWeight":"bold"},"encoding":{"text":{"field":"t"}}}
]},
{"width":127,"height":153,"encoding":{"x":{"field":"x","type":"quantitative","scale":{"domain":[-16.55,15.63],"nice":false,"zero":false},"axis":{"values":[-10,0,10],"title":"tSNE dim 1","labelPadding":5,"titlePadding":2}},"y":{"field":"y","type":"quantitative","scale":{"domain":[-42.4,59.2],"nice":false,"zero":false},"axis":{"values":[-40,-20,0,20,40],"title":"tSNE dim 2","labelPadding":4,"titlePadding":1}}},"layer":[
{"data":{"values":[{"x":-0.5,"y":54.5,"v":-2.2},{"x":4.3,"y":52.8,"v":-2},{"x":-2.4,"y":49.4,"v":-1},{"x":3.4,"y":46.6,"v":-2.2},{"x":7.6,"y":48.8,"v":-2.2},{"x":-4.2,"y":17.9,"v":2.5},{"x":-7.4,"y":14.1,"v":4.5},{"x":-2.1,"y":11.5,"v":3},{"x":3,"y":13.5,"v":2},{"x":-9.4,"y":4.6,"v":4},{"x":0.7,"y":4,"v":3},{"x":-7.1,"y":-2.4,"v":-1},{"x":-2.9,"y":-0.9,"v":0.6},{"x":-11.6,"y":-5.3,"v":-1.5},{"x":-2.9,"y":-7.3,"v":0},{"x":-10.3,"y":-15.5,"v":-0.5},{"x":-15.1,"y":-20.8,"v":0},{"x":-10.3,"y":-20.3,"v":-0.3},{"x":4,"y":-14.8,"v":-0.7},{"x":7.7,"y":-18.8,"v":-2.5},{"x":3.1,"y":-22.9,"v":-1},{"x":8.5,"y":-26,"v":-3},{"x":12.5,"y":-23.4,"v":-1.6},{"x":2.6,"y":-29.4,"v":1},{"x":14.2,"y":-30.5,"v":-1.4},{"x":6.4,"y":-32.7,"v":1.6}]},"mark":{"type":"circle","size":36,"opacity":1},"encoding":{"color":{"field":"v","type":"quantitative","scale":{"domain":[-2.5,0,4.5],"range":["#6a45e6","#cfcfcf","#ee1010"],"clamp":true},"legend":{"orient":"none","legendX":128.3,"legendY":93.7,"gradientLength":58,"gradientThickness":6,"title":"Deviation score","titleOrient":"left","titleAngle":270,"titlePadding":-9,"titleFontSize":9.5,"titleFontWeight":"normal","titleColor":"#222","titleAlign":"center","titleBaseline":"bottom","labelFontSize":10,"labelColor":"#222","values":[-2,0,2,4]}}}},
{"data":{"values":[{"x":-4.9,"y":6.8}]},"mark":{"type":"point","filled":false,"opacity":1,"stroke":"#000","strokeWidth":1.1,"size":6724,"angle":-8,"shape":"M-1,0 C-1,-0.387 -0.552,-0.7 0,-0.7 C0.552,-0.7 1,-0.387 1,0 C1,0.387 0.552,0.7 0,0.7 C-0.552,0.7 -1,0.387 -1,0 Z"}},
{"data":{"values":[{"x":-12.5,"y":26,"t":"PDX"},{"x":1.6,"y":63.1,"t":"POU2F2"}]},"mark":{"type":"text"},"encoding":{"text":{"field":"t"}}},
{"data":{"values":[{"x":-25.8,"x2":22.1,"y":69.5}]},"mark":{"type":"rule","stroke":"#000","strokeWidth":1.2},"encoding":{"x2":{"field":"x2"}}},
{"data":{"values":[{"x":1.6,"y":74.2,"t":"POU family"}]},"mark":{"type":"text","fontWeight":"bold"},"encoding":{"text":{"field":"t"}}}
]}
]}
]}
